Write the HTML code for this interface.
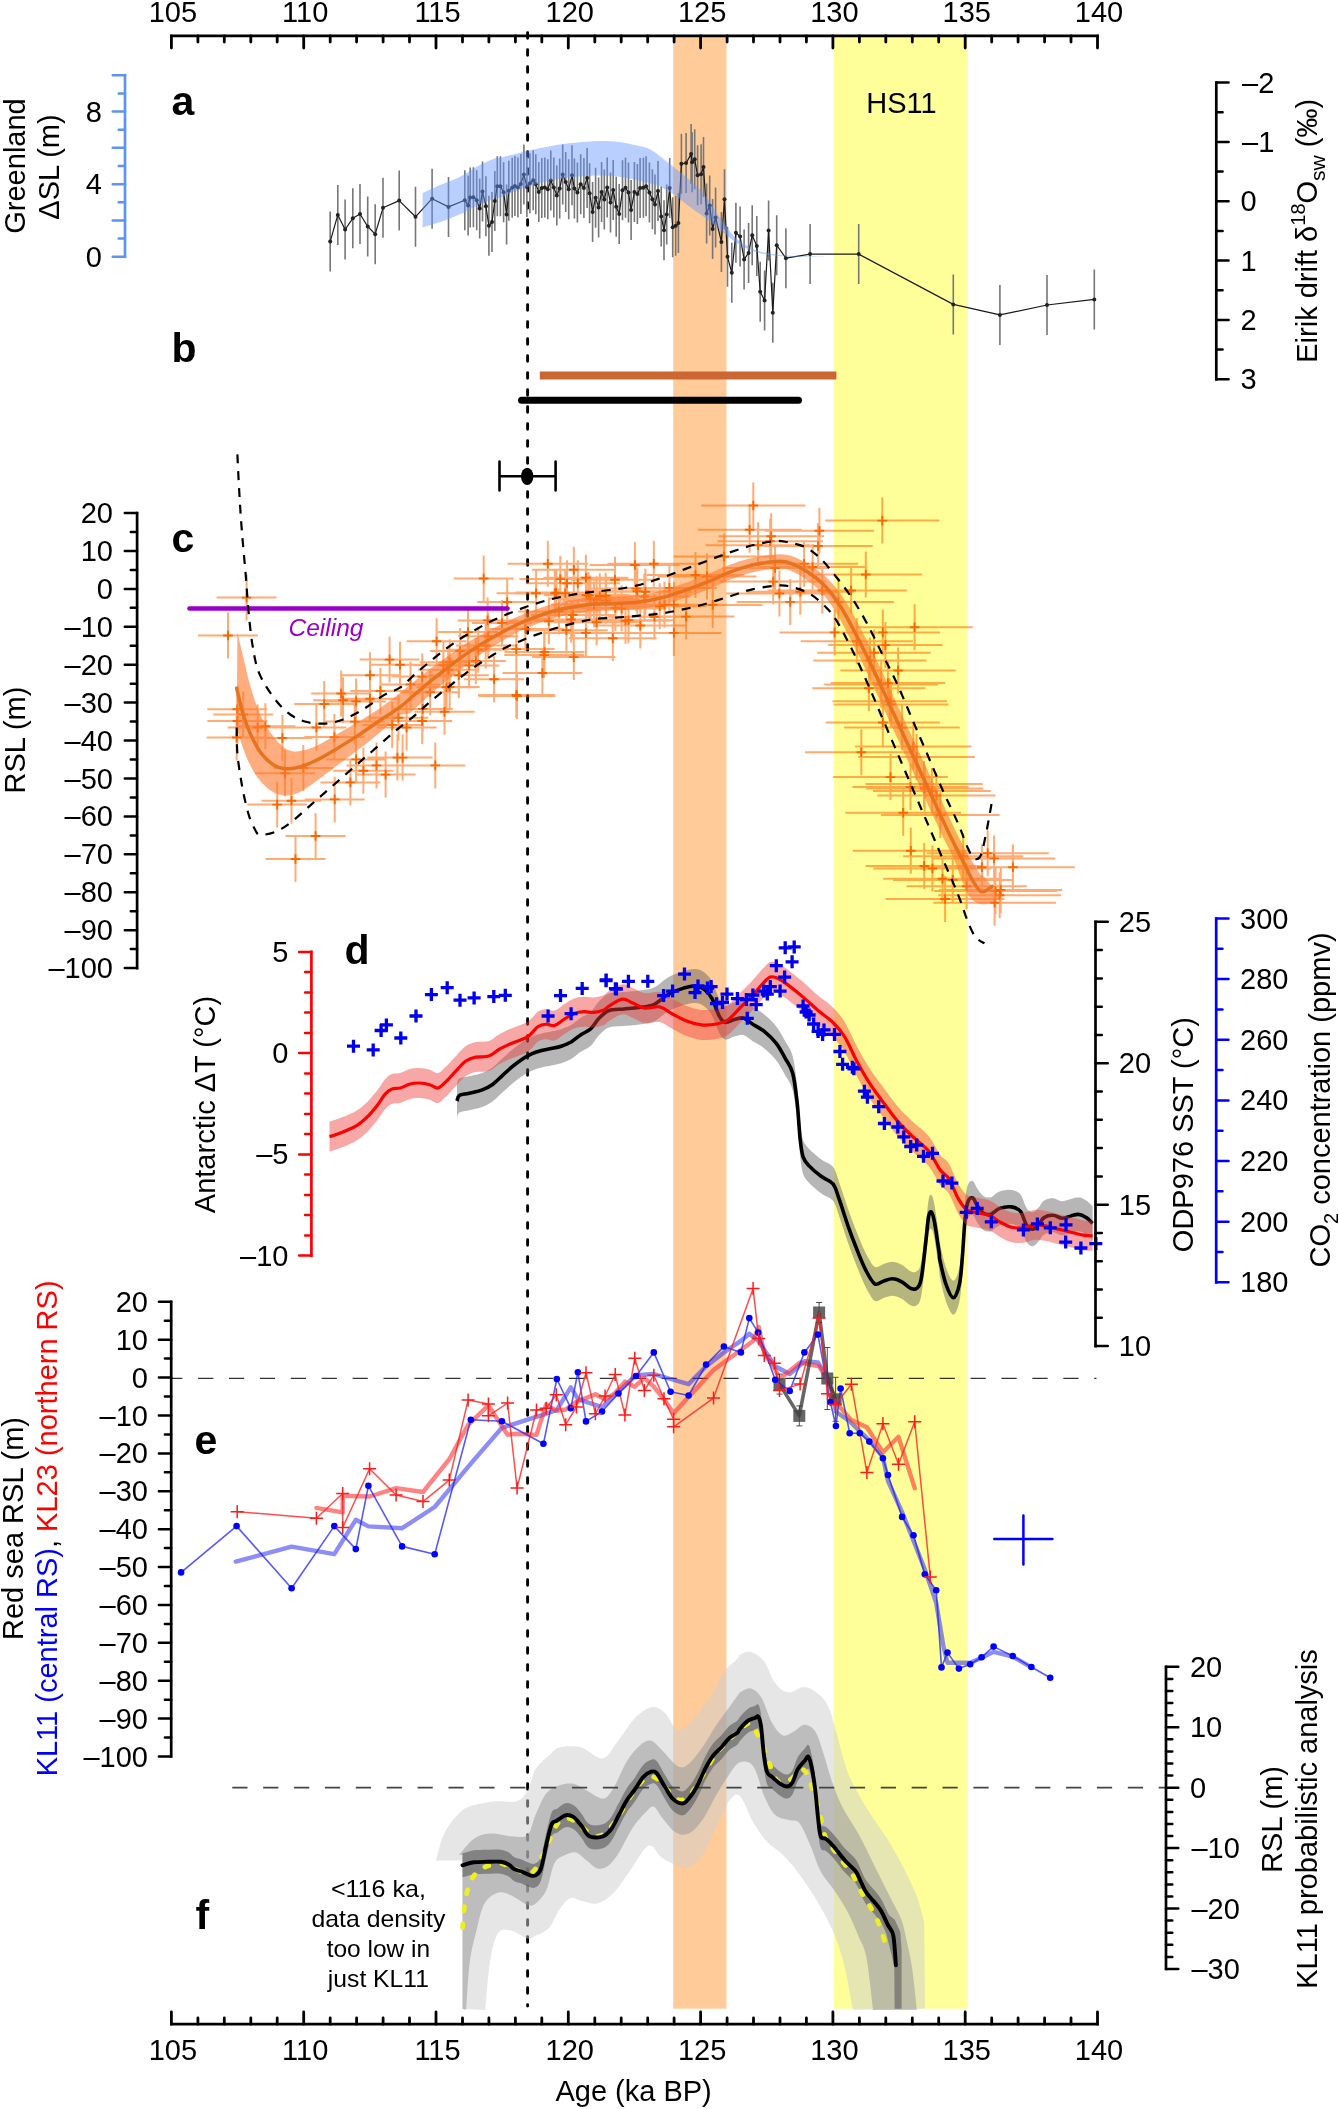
<!DOCTYPE html>
<html><head><meta charset="utf-8"><title>Figure</title>
<style>html,body{margin:0;padding:0;background:#fff}svg{display:block;will-change:transform}</style></head>
<body>
<svg width="1339" height="2109" viewBox="0 0 1339 2109">
<rect width="1339" height="2109" fill="#fff"/>
<rect x="673.2" y="36" width="53.3" height="1972.7" fill="#FFCC99"/>
<rect x="834" y="36" width="133.9" height="1972.7" fill="#FFFF99"/>
<line x1="527.6" y1="32.8" x2="527.6" y2="2006" stroke="#000" stroke-width="2.9" stroke-linecap="round" stroke-dasharray="5.5 11.5"/>
<path d="M330.2 211.6V271.6M337.8 184.9V244.9M345.1 199.5V259.5M352.8 188.3V248.3M360.0 184.0V244.0M367.7 196.5V256.5M375.2 204.2V264.2M383.0 177.8V237.8M399.2 170.6V230.6M415.5 186.8V246.8M432.1 168.7V228.7M448.5 176.9V236.9M464.8 170.2V230.2M468.1 175.6V235.6M470.2 167.4V227.4M473.4 167.2V227.2M476.7 170.2V230.2M479.7 178.4V238.4M482.5 161.6V221.6M485.9 176.2V236.2M488.9 195.8V255.8M492.0 192.0V252.0M494.8 170.9V230.9M497.3 156.2V216.2M500.4 156.2V216.2M503.6 162.2V222.2M506.6 184.6V244.6M508.8 160.8V220.8M512.2 157.7V217.7M514.9 155.9V215.9M517.9 157.4V217.4M520.9 153.9V213.9M523.9 144.5V204.5M526.9 156.9V216.9M529.9 153.2V213.2M533.2 150.2V210.2M535.8 154.2V214.2M538.8 161.9V221.9M541.8 158.0V218.0M544.8 157.4V217.4M547.8 159.2V219.2M550.8 150.5V210.5M553.8 157.4V217.4M556.8 165.4V225.4M559.7 158.4V218.4M562.7 144.5V204.5M565.7 152.1V212.1M568.7 159.2V219.2M572.0 145.3V205.3M574.4 158.4V218.4M577.4 162.4V222.4M580.7 154.2V214.2M583.9 158.1V218.1M587.1 148.0V208.0M589.6 163.2V223.2M592.6 181.9V241.9M595.6 167.7V227.7M598.6 177.4V237.4M601.6 161.9V221.9M604.3 169.6V229.6M607.2 157.4V217.4M610.5 172.6V232.6M613.2 159.9V219.9M616.2 176.8V236.8M619.2 184.1V244.1M622.5 160.2V220.2M625.5 157.7V217.7M628.5 162.6V222.6M631.1 180.1V240.1M634.4 161.9V221.9M637.4 163.9V223.9M640.1 158.0V218.0M643.4 157.7V217.7M646.1 156.2V216.2M649.4 162.4V222.4M652.4 169.3V229.3M655.0 174.4V234.4M658.0 161.1V221.1M661.2 186.5V246.5M664.0 200.2V260.2M666.7 184.6V244.6M669.7 158.0V218.0M672.7 197.3V257.3M675.7 195.8V255.8M678.4 193.1V253.1M681.4 133.8V193.8M686.1 133.0V193.0M691.1 124.1V184.1M692.1 132.3V192.3M694.7 129.3V189.3M697.6 145.3V205.3M701.1 144.2V204.2M703.5 137.1V197.1M706.6 183.5V243.5M709.7 175.6V235.6M712.6 199.0V259.0M715.6 187.5V247.5M721.4 211.9V271.9M724.5 169.3V229.3M727.5 226.8V286.8M731.8 242.8V302.8M735.9 202.8V262.8M740.1 206.5V266.5M744.1 229.4V289.4M748.6 222.9V282.9M752.2 205.2V265.2M756.8 215.9V275.9M760.2 261.8V321.8M764.6 270.4V330.4M768.6 200.4V260.4M772.8 282.7V342.7M776.7 215.2V275.2M785.9 228.2V288.2M810.1 224.1V284.1M858.7 224.1V284.1M953.3 274.4V334.4M999.9 284.9V344.9M1047.0 275.0V335.0M1094.3 269.4V329.4" stroke="#777" stroke-width="1.6" fill="none"/>
<path d="M330.2 241.6 L337.8 214.9 L345.1 229.5 L352.8 218.3 L360.0 214.0 L367.7 226.5 L375.2 234.2 L383.0 207.8 L399.2 200.6 L415.5 216.8 L432.1 198.7 L448.5 206.9 L464.8 200.2 L468.1 205.6 L470.2 197.4 L473.4 197.2 L476.7 200.2 L479.7 208.4 L482.5 191.6 L485.9 206.2 L488.9 225.8 L492.0 222.0 L494.8 200.9 L497.3 186.2 L500.4 186.2 L503.6 192.2 L506.6 214.6 L508.8 190.8 L512.2 187.7 L514.9 185.9 L517.9 187.4 L520.9 183.9 L523.9 174.5 L526.9 186.9 L529.9 183.2 L533.2 180.2 L535.8 184.2 L538.8 191.9 L541.8 188.0 L544.8 187.4 L547.8 189.2 L550.8 180.5 L553.8 187.4 L556.8 195.4 L559.7 188.4 L562.7 174.5 L565.7 182.1 L568.7 189.2 L572.0 175.3 L574.4 188.4 L577.4 192.4 L580.7 184.2 L583.9 188.1 L587.1 178.0 L589.6 193.2 L592.6 211.9 L595.6 197.7 L598.6 207.4 L601.6 191.9 L604.3 199.6 L607.2 187.4 L610.5 202.6 L613.2 189.9 L616.2 206.8 L619.2 214.1 L622.5 190.2 L625.5 187.7 L628.5 192.6 L631.1 210.1 L634.4 191.9 L637.4 193.9 L640.1 188.0 L643.4 187.7 L646.1 186.2 L649.4 192.4 L652.4 199.3 L655.0 204.4 L658.0 191.1 L661.2 216.5 L664.0 230.2 L666.7 214.6 L669.7 188.0 L672.7 227.3 L675.7 225.8 L678.4 223.1 L681.4 163.8 L686.1 163.0 L691.1 154.1 L692.1 162.3 L694.7 159.3 L697.6 175.3 L701.1 174.2 L703.5 167.1 L706.6 213.5 L709.7 205.6 L712.6 229.0 L715.6 217.5 L721.4 241.9 L724.5 199.3 L727.5 256.8 L731.8 272.8 L735.9 232.8 L740.1 236.5 L744.1 259.4 L748.6 252.9 L752.2 235.2 L756.8 245.9 L760.2 291.8 L764.6 300.4 L768.6 230.4 L772.8 312.7 L776.7 245.2 L785.9 258.2 L810.1 254.1 L858.7 254.1 L953.3 304.4 L999.9 314.9 L1047.0 305.0 L1094.3 299.4" stroke="#1a1a1a" stroke-width="1.2" fill="none" stroke-linejoin="round"/>
<g fill="#222"><circle cx="330.2" cy="241.6" r="2"/><circle cx="337.8" cy="214.9" r="2"/><circle cx="345.1" cy="229.5" r="2"/><circle cx="352.8" cy="218.3" r="2"/><circle cx="360.0" cy="214.0" r="2"/><circle cx="367.7" cy="226.5" r="2"/><circle cx="375.2" cy="234.2" r="2"/><circle cx="383.0" cy="207.8" r="2"/><circle cx="399.2" cy="200.6" r="2"/><circle cx="415.5" cy="216.8" r="2"/><circle cx="432.1" cy="198.7" r="2"/><circle cx="448.5" cy="206.9" r="2"/><circle cx="464.8" cy="200.2" r="2"/><circle cx="468.1" cy="205.6" r="2"/><circle cx="470.2" cy="197.4" r="2"/><circle cx="473.4" cy="197.2" r="2"/><circle cx="476.7" cy="200.2" r="2"/><circle cx="479.7" cy="208.4" r="2"/><circle cx="482.5" cy="191.6" r="2"/><circle cx="485.9" cy="206.2" r="2"/><circle cx="488.9" cy="225.8" r="2"/><circle cx="492.0" cy="222.0" r="2"/><circle cx="494.8" cy="200.9" r="2"/><circle cx="497.3" cy="186.2" r="2"/><circle cx="500.4" cy="186.2" r="2"/><circle cx="503.6" cy="192.2" r="2"/><circle cx="506.6" cy="214.6" r="2"/><circle cx="508.8" cy="190.8" r="2"/><circle cx="512.2" cy="187.7" r="2"/><circle cx="514.9" cy="185.9" r="2"/><circle cx="517.9" cy="187.4" r="2"/><circle cx="520.9" cy="183.9" r="2"/><circle cx="523.9" cy="174.5" r="2"/><circle cx="526.9" cy="186.9" r="2"/><circle cx="529.9" cy="183.2" r="2"/><circle cx="533.2" cy="180.2" r="2"/><circle cx="535.8" cy="184.2" r="2"/><circle cx="538.8" cy="191.9" r="2"/><circle cx="541.8" cy="188.0" r="2"/><circle cx="544.8" cy="187.4" r="2"/><circle cx="547.8" cy="189.2" r="2"/><circle cx="550.8" cy="180.5" r="2"/><circle cx="553.8" cy="187.4" r="2"/><circle cx="556.8" cy="195.4" r="2"/><circle cx="559.7" cy="188.4" r="2"/><circle cx="562.7" cy="174.5" r="2"/><circle cx="565.7" cy="182.1" r="2"/><circle cx="568.7" cy="189.2" r="2"/><circle cx="572.0" cy="175.3" r="2"/><circle cx="574.4" cy="188.4" r="2"/><circle cx="577.4" cy="192.4" r="2"/><circle cx="580.7" cy="184.2" r="2"/><circle cx="583.9" cy="188.1" r="2"/><circle cx="587.1" cy="178.0" r="2"/><circle cx="589.6" cy="193.2" r="2"/><circle cx="592.6" cy="211.9" r="2"/><circle cx="595.6" cy="197.7" r="2"/><circle cx="598.6" cy="207.4" r="2"/><circle cx="601.6" cy="191.9" r="2"/><circle cx="604.3" cy="199.6" r="2"/><circle cx="607.2" cy="187.4" r="2"/><circle cx="610.5" cy="202.6" r="2"/><circle cx="613.2" cy="189.9" r="2"/><circle cx="616.2" cy="206.8" r="2"/><circle cx="619.2" cy="214.1" r="2"/><circle cx="622.5" cy="190.2" r="2"/><circle cx="625.5" cy="187.7" r="2"/><circle cx="628.5" cy="192.6" r="2"/><circle cx="631.1" cy="210.1" r="2"/><circle cx="634.4" cy="191.9" r="2"/><circle cx="637.4" cy="193.9" r="2"/><circle cx="640.1" cy="188.0" r="2"/><circle cx="643.4" cy="187.7" r="2"/><circle cx="646.1" cy="186.2" r="2"/><circle cx="649.4" cy="192.4" r="2"/><circle cx="652.4" cy="199.3" r="2"/><circle cx="655.0" cy="204.4" r="2"/><circle cx="658.0" cy="191.1" r="2"/><circle cx="661.2" cy="216.5" r="2"/><circle cx="664.0" cy="230.2" r="2"/><circle cx="666.7" cy="214.6" r="2"/><circle cx="669.7" cy="188.0" r="2"/><circle cx="672.7" cy="227.3" r="2"/><circle cx="675.7" cy="225.8" r="2"/><circle cx="678.4" cy="223.1" r="2"/><circle cx="681.4" cy="163.8" r="2"/><circle cx="686.1" cy="163.0" r="2"/><circle cx="691.1" cy="154.1" r="2"/><circle cx="692.1" cy="162.3" r="2"/><circle cx="694.7" cy="159.3" r="2"/><circle cx="697.6" cy="175.3" r="2"/><circle cx="701.1" cy="174.2" r="2"/><circle cx="703.5" cy="167.1" r="2"/><circle cx="706.6" cy="213.5" r="2"/><circle cx="709.7" cy="205.6" r="2"/><circle cx="712.6" cy="229.0" r="2"/><circle cx="715.6" cy="217.5" r="2"/><circle cx="721.4" cy="241.9" r="2"/><circle cx="724.5" cy="199.3" r="2"/><circle cx="727.5" cy="256.8" r="2"/><circle cx="731.8" cy="272.8" r="2"/><circle cx="735.9" cy="232.8" r="2"/><circle cx="740.1" cy="236.5" r="2"/><circle cx="744.1" cy="259.4" r="2"/><circle cx="748.6" cy="252.9" r="2"/><circle cx="752.2" cy="235.2" r="2"/><circle cx="756.8" cy="245.9" r="2"/><circle cx="760.2" cy="291.8" r="2"/><circle cx="764.6" cy="300.4" r="2"/><circle cx="768.6" cy="230.4" r="2"/><circle cx="772.8" cy="312.7" r="2"/><circle cx="776.7" cy="245.2" r="2"/><circle cx="785.9" cy="258.2" r="2"/><circle cx="810.1" cy="254.1" r="2"/><circle cx="858.7" cy="254.1" r="2"/><circle cx="953.3" cy="304.4" r="2"/><circle cx="999.9" cy="314.9" r="2"/><circle cx="1047.0" cy="305.0" r="2"/><circle cx="1094.3" cy="299.4" r="2"/></g>
<path d="M422.6 193.1 L422.6 193.1 C425.6 191.7 434.6 187.3 440.7 184.7 C446.8 182.0 453.1 180.3 459.4 177.2 C465.6 174.1 471.8 169.3 478.0 166.0 C484.3 162.7 493.0 159.0 496.7 157.6 C500.4 156.2 494.5 159.0 500.0 157.8 C505.5 156.6 519.9 152.6 529.9 150.3 C539.8 148.1 549.8 145.8 559.7 144.4 C569.7 142.9 582.2 141.9 589.6 141.4 C597.1 140.8 599.6 140.9 604.6 141.1 C609.5 141.2 614.5 141.4 619.5 142.1 C624.5 142.8 629.4 143.9 634.4 145.1 C639.4 146.3 644.4 146.8 649.4 149.1 C654.3 151.5 660.3 156.5 664.3 159.3 C668.3 162.1 674.0 166.4 673.3 166.0 C672.5 165.6 659.7 156.7 660.0 157.1 C660.3 157.4 670.0 164.4 674.9 168.3 C679.9 172.1 684.9 175.7 689.9 180.2 C694.9 184.7 699.8 188.9 704.8 195.1 C709.8 201.4 714.8 210.6 719.7 217.5 C724.7 224.5 729.7 232.0 734.7 237.0 C739.7 241.9 744.6 244.8 749.6 247.4 C754.6 250.0 759.6 251.4 764.6 252.6 C769.5 253.9 774.5 254.3 779.5 254.9 C784.5 255.4 789.4 255.7 794.4 255.9 C799.4 256.2 804.4 256.3 809.4 256.4 C814.3 256.5 821.8 256.6 824.3 256.7 L824.3 257.1 L824.3 257.1 C821.8 257.1 814.3 257.1 809.4 257.0 C804.4 256.9 799.4 256.8 794.4 256.7 C789.4 256.5 784.5 256.5 779.5 256.1 C774.5 255.7 769.5 255.2 764.6 254.1 C759.6 253.1 754.6 251.8 749.6 249.7 C744.6 247.5 739.7 244.8 734.7 241.4 C729.7 238.1 724.7 233.5 719.7 229.5 C714.8 225.5 709.8 221.3 704.8 217.5 C699.8 213.8 694.9 210.8 689.9 207.1 C684.9 203.4 679.9 198.6 674.9 195.1 C670.0 191.7 660.3 186.8 660.0 186.2 C659.7 185.6 672.5 191.2 673.3 191.4 C674.0 191.7 668.3 189.0 664.3 187.7 C660.3 186.3 654.3 184.6 649.4 183.2 C644.4 181.8 639.4 180.5 634.4 179.5 C629.4 178.4 624.5 177.4 619.5 176.8 C614.5 176.1 609.5 175.9 604.6 175.7 C599.6 175.5 597.1 175.2 589.6 175.7 C582.2 176.2 569.7 177.0 559.7 178.7 C549.8 180.5 539.8 183.1 529.9 186.2 C519.9 189.3 505.5 195.4 500.0 197.4 C494.5 199.3 500.4 196.4 496.7 197.8 C493.0 199.1 484.3 202.4 478.0 205.2 C471.8 208.0 465.6 211.8 459.4 214.6 C453.1 217.4 446.8 219.9 440.7 222.0 C434.6 224.1 425.6 226.4 422.6 227.3 Z" fill="#6495FF" fill-opacity="0.45"/>
<line x1="539.8" y1="375.4" x2="836.4" y2="375.4" stroke="#CC6633" stroke-width="8"/>
<line x1="521.5" y1="400.3" x2="798.5" y2="400.3" stroke="#000" stroke-width="7" stroke-linecap="round"/>
<path d="M499.5 476.3H555.6M499.5 461.5V490.5M555.6 461.5V490.5" stroke="#000" stroke-width="2.6" fill="none" stroke-linecap="round"/>
<ellipse cx="527.2" cy="476.3" rx="6.2" ry="8.6" fill="#000"/>
<path d="M216.6 597.6H276.6M246.6 574.6V620.6M198.0 635.5H258.0M228.0 612.5V658.5M207.4 721.0H267.4M237.4 698.0V744.0M206.7 737.5H266.7M236.7 714.5V760.5M213.2 714.5H273.2M243.2 691.5V737.5M227.6 727.5H287.6M257.6 704.5V750.5M235.4 726.2H295.4M265.4 703.2V749.2M252.4 738.0H312.4M282.4 715.0V761.0M255.0 773.3H315.0M285.0 750.3V796.3M247.2 804.6H307.2M277.2 781.6V827.6M261.5 800.7H321.5M291.5 777.7V823.7M273.3 768.0H333.3M303.3 745.0V791.0M265.5 859.0H325.5M295.5 836.0V882.0M285.6 836.0H345.6M315.6 813.0V859.0M286.4 727.5H346.4M316.4 704.5V750.5M294.2 704.0H354.2M324.2 681.0V727.0M311.2 693.5H371.2M341.2 670.5V716.5M326.1 701.4H386.1M356.1 678.4V724.4M304.7 799.4H364.7M334.7 776.4V822.4M320.4 782.4H380.4M350.4 759.4V805.4M326.1 759.4H386.1M356.1 736.4V782.4M333.4 770.7H393.4M363.4 747.7V793.7M340.0 675.3H400.0M370.0 652.3V698.3M340.0 698.8H400.0M370.0 675.8V721.8M346.5 765.4H406.5M376.5 742.4V788.4M350.4 690.9H410.4M380.4 667.9V713.9M355.6 774.6H415.6M385.6 751.6V797.6M359.6 659.6H419.6M389.6 636.6V682.6M362.2 724.9H422.2M392.2 701.9V747.9M370.0 664.8H430.0M400.0 641.8V687.8M367.4 757.6H427.4M397.4 734.6V780.6M372.6 757.6H432.6M402.6 734.6V780.6M376.6 727.5H436.6M406.6 704.5V750.5M380.5 684.4H440.5M410.5 661.4V707.4M392.2 676.6H452.2M422.2 653.6V699.6M392.2 721.0H452.2M422.2 698.0V744.0M400.1 692.2H460.1M430.1 669.2V715.2M405.3 765.4H465.3M435.3 742.4V788.4M406.6 641.3H466.6M436.6 618.3V664.3M419.7 662.2H479.7M449.7 639.2V685.2M419.7 687.0H479.7M449.7 664.0V710.0M414.5 711.8H474.5M444.5 688.8V734.8M428.8 675.3H488.8M458.8 652.3V698.3M438.0 632.1H498.0M468.0 609.1V655.1M445.8 660.9H505.8M475.8 637.9V683.9M453.7 578.5H513.7M483.7 555.5V601.5M457.6 620.4H517.6M487.6 597.4V643.4M464.1 679.2H524.1M494.1 656.2V702.2M472.0 623.0H532.0M502.0 600.0V646.0M477.2 602.1H537.2M507.2 579.1V625.1M478.0 694.9H554.7M516.3 671.9V717.9M478.0 649.1H554.7M516.3 626.1V672.1M507.6 563.7H588.0M547.8 540.7V586.7M519.4 579.1H601.3M560.3 556.1V602.1M525.7 583.2H608.4M567.0 560.2V606.2M532.1 569.7H615.5M573.8 546.7V592.7M535.8 583.2H619.8M577.8 560.2V606.2M543.4 577.8H628.3M585.9 554.8V600.8M496.6 593.3H575.7M536.1 570.3V616.3M515.6 592.6H597.0M556.3 569.6V615.6M546.0 595.3H631.1M588.6 572.3V618.3M553.6 599.3H639.7M596.6 576.3V622.3M570.9 579.8H659.2M615.0 556.8V602.8M562.4 600.7H649.6M606.0 577.7V623.7M589.6 565.0H680.2M634.9 542.0V588.0M590.9 588.6H681.6M636.3 565.6V611.6M607.4 563.7H700.1M653.8 540.7V586.7M598.5 596.6H690.2M644.3 573.6V619.6M608.0 616.8H700.9M654.4 593.8V639.8M617.5 604.7H711.5M664.5 581.7V627.7M626.4 604.7H721.5M673.9 581.7V627.7M626.4 632.9H721.5M673.9 609.9V655.9M580.8 620.8H670.3M625.5 597.8V643.8M568.8 638.3H656.7M612.8 615.3V661.3M543.4 632.9H628.3M585.9 609.9V655.9M553.6 622.2H639.7M596.6 599.2V645.2M529.5 619.5H612.6M571.1 596.5V642.5M525.1 630.2H607.7M566.4 607.2V653.2M504.2 655.1H584.2M544.2 632.1V678.1M532.1 657.1H615.5M573.8 634.1V680.1M486.5 628.9H564.3M525.4 605.9V651.9M502.5 673.0H582.3M542.4 650.0V696.0M478.6 696.0H555.4M517.0 673.0V719.0M657.5 576.5H756.5M707.0 553.5V599.5M662.9 604.9H762.5M712.7 581.9V627.9M673.6 556.6H774.5M724.1 533.6V579.6M701.2 505.5H805.4M753.3 482.5V528.5M697.6 529.7H801.6M749.6 506.7V552.7M705.8 545.3H810.4M758.1 522.3V568.3M722.2 568.0H828.1M775.1 545.0V591.0M726.3 593.5H832.5M779.4 570.5V616.5M825.3 520.6H939.4M882.3 497.6V543.6M764.7 530.8H874.0M819.4 507.8V553.8M763.5 546.0H872.7M818.1 523.0V569.0M809.4 574.5H922.2M865.8 551.5V597.5M795.3 590.5H906.9M851.1 567.5V613.5M750.1 563.8H858.2M804.1 540.8V586.8M736.6 601.9H843.7M790.2 578.9V624.9M746.4 591.7H854.2M800.3 568.7V614.7M783.0 601.9H893.8M838.4 578.9V624.9M779.4 632.4H889.8M834.6 609.4V655.4M825.8 632.4H939.9M882.8 609.4V655.4M828.2 645.1H942.5M885.4 622.1V668.1M817.2 652.7H930.7M874.0 629.7V675.7M856.3 627.3H972.8M914.6 604.3V650.3M840.4 670.5H955.7M898.1 647.5V693.5M812.4 688.2H925.4M868.9 665.2V711.2M830.7 683.1H945.2M887.9 660.1V706.1M805.0 752.2H917.5M861.3 729.2V775.2M825.8 722.5H939.9M882.8 699.5V745.5M844.1 727.6H959.7M901.9 704.6V750.6M855.1 746.6H971.5M913.3 723.6V769.6M833.1 777.1H947.8M890.5 754.1V800.1M866.1 788.5H983.4M924.7 765.5V811.5M872.9 791.1H990.8M931.9 768.1V814.1M845.3 812.7H961.0M903.2 789.7V835.7M852.7 850.7H968.9M910.8 827.7V873.7M865.6 866.0H982.9M924.2 843.0V889.0M873.4 868.5H991.3M932.4 845.5V891.5M883.2 878.7H1001.8M942.5 855.7V901.7M893.0 879.9H1012.4M952.7 856.9V902.9M906.4 886.3H1026.9M966.6 863.3V909.3M921.1 867.3H1042.7M981.9 844.3V890.3M926.7 853.3H1048.8M987.7 830.3V876.3M932.8 858.4H1055.3M994.1 835.4V881.4M950.9 867.3H1074.9M1012.9 844.3V890.3M933.3 902.8H1055.9M994.6 879.8V925.8M885.6 899.0H1004.5M945.1 876.0V922.0M207.3 709.3H267.3M237.3 686.3V732.3M304.4 737.1H364.4M334.4 714.1V760.1M313.1 700.2H373.1M343.1 677.2V723.2M324.8 721.6H384.8M354.8 698.6V744.6M368.4 717.7H428.4M398.4 694.7V740.7M392.7 708.9H452.7M422.7 685.9V731.9M439.1 665.4H499.1M469.1 642.4V688.4M416.5 687.3H476.5M446.5 664.3V710.3M458.2 636.3H518.2M488.2 613.3V659.3M455.7 645.6H515.7M485.7 622.6V668.6M413.4 665.3H473.4M443.4 642.3V688.3M418.2 669.7H478.2M448.2 646.7V692.7M448.2 649.7H508.2M478.2 626.7V672.7M430.1 651.0H490.1M460.1 628.0V674.0M583.6 620.3H673.4M628.5 597.3V643.3M547.8 598.5H633.1M590.5 575.5V621.5M637.8 616.6H734.4M686.1 593.6V639.6M531.1 615.0H614.4M572.8 592.0V638.0M508.5 621.3H589.1M548.8 598.3V644.3M612.9 606.3H706.4M659.7 583.3V629.3M514.2 593.4H595.4M554.8 570.4V616.4M544.0 595.1H628.9M586.4 572.1V618.1M571.2 608.0H659.5M615.4 585.0V631.0M518.1 611.6H599.8M559.0 588.6V634.6M591.8 591.3H682.7M637.3 568.3V614.3M577.1 608.6H666.1M621.6 585.6V631.6M556.5 596.2H643.0M599.8 573.2V619.2M594.7 625.5H685.9M640.3 602.5V648.5M524.1 593.1H606.5M565.3 570.1V616.1M622.1 587.9H716.7M669.4 564.9V610.9M599.5 591.8H691.3M645.4 568.8V614.8M504.5 652.0H584.5M544.5 629.0V675.0M551.1 604.4H636.9M594.0 581.4V627.4M562.1 595.7H649.3M605.7 572.7V618.7M646.7 575.0H744.3M695.5 552.0V598.0M717.5 541.3H823.0M770.2 518.3V564.3M758.2 567.0H866.9M812.6 544.0V590.0M720.3 581.6H826.1M773.2 558.6V604.6M718.4 536.2H824.0M771.2 513.2V559.2M767.5 590.5H877.0M822.3 567.5V613.5M833.7 704.4H948.5M891.1 681.4V727.4M858.2 757.1H974.9M916.6 734.1V780.1M852.4 787.1H968.6M910.5 764.1V810.1M813.3 660.6H926.4M869.9 637.6V683.6M824.2 684.4H938.2M881.2 661.4V707.4M832.4 701.3H947.0M889.7 678.3V724.3M800.8 641.3H912.9M856.8 618.3V664.3M865.4 784.1H982.7M924.0 761.1V807.1M881.1 815.0H999.6M940.3 792.0V838.0M938.2 895.3H1061.2M999.7 872.3V918.3M877.4 795.5H995.5M936.4 772.5V818.5M939.1 889.9H1062.2M1000.7 866.9V912.9M934.2 891.1H1056.9M995.5 868.1V914.1M903.1 856.2H1023.3M963.2 833.2V879.2" stroke="#FF6600" stroke-opacity="0.55" stroke-width="2" fill="none"/>
<path d="M241.8 597.6h9.6M246.6 592.8v9.6M223.2 635.5h9.6M228.0 630.7v9.6M232.6 721.0h9.6M237.4 716.2v9.6M231.9 737.5h9.6M236.7 732.7v9.6M238.4 714.5h9.6M243.2 709.7v9.6M252.8 727.5h9.6M257.6 722.7v9.6M260.6 726.2h9.6M265.4 721.4v9.6M277.6 738.0h9.6M282.4 733.2v9.6M280.2 773.3h9.6M285.0 768.5v9.6M272.4 804.6h9.6M277.2 799.8v9.6M286.7 800.7h9.6M291.5 795.9v9.6M298.5 768.0h9.6M303.3 763.2v9.6M290.7 859.0h9.6M295.5 854.2v9.6M310.8 836.0h9.6M315.6 831.2v9.6M311.6 727.5h9.6M316.4 722.7v9.6M319.4 704.0h9.6M324.2 699.2v9.6M336.4 693.5h9.6M341.2 688.7v9.6M351.3 701.4h9.6M356.1 696.6v9.6M329.9 799.4h9.6M334.7 794.6v9.6M345.6 782.4h9.6M350.4 777.6v9.6M351.3 759.4h9.6M356.1 754.6v9.6M358.6 770.7h9.6M363.4 765.9v9.6M365.2 675.3h9.6M370.0 670.5v9.6M365.2 698.8h9.6M370.0 694.0v9.6M371.7 765.4h9.6M376.5 760.6v9.6M375.6 690.9h9.6M380.4 686.1v9.6M380.8 774.6h9.6M385.6 769.8v9.6M384.8 659.6h9.6M389.6 654.8v9.6M387.4 724.9h9.6M392.2 720.1v9.6M395.2 664.8h9.6M400.0 660.0v9.6M392.6 757.6h9.6M397.4 752.8v9.6M397.8 757.6h9.6M402.6 752.8v9.6M401.8 727.5h9.6M406.6 722.7v9.6M405.7 684.4h9.6M410.5 679.6v9.6M417.4 676.6h9.6M422.2 671.8v9.6M417.4 721.0h9.6M422.2 716.2v9.6M425.3 692.2h9.6M430.1 687.4v9.6M430.5 765.4h9.6M435.3 760.6v9.6M431.8 641.3h9.6M436.6 636.5v9.6M444.9 662.2h9.6M449.7 657.4v9.6M444.9 687.0h9.6M449.7 682.2v9.6M439.7 711.8h9.6M444.5 707.0v9.6M454.0 675.3h9.6M458.8 670.5v9.6M463.2 632.1h9.6M468.0 627.3v9.6M471.0 660.9h9.6M475.8 656.1v9.6M478.9 578.5h9.6M483.7 573.7v9.6M482.8 620.4h9.6M487.6 615.6v9.6M489.3 679.2h9.6M494.1 674.4v9.6M497.2 623.0h9.6M502.0 618.2v9.6M502.4 602.1h9.6M507.2 597.3v9.6M511.5 694.9h9.6M516.3 690.1v9.6M511.5 649.1h9.6M516.3 644.3v9.6M543.0 563.7h9.6M547.8 558.9v9.6M555.5 579.1h9.6M560.3 574.3v9.6M562.2 583.2h9.6M567.0 578.4v9.6M569.0 569.7h9.6M573.8 564.9v9.6M573.0 583.2h9.6M577.8 578.4v9.6M581.1 577.8h9.6M585.9 573.0v9.6M531.3 593.3h9.6M536.1 588.5v9.6M551.5 592.6h9.6M556.3 587.8v9.6M583.8 595.3h9.6M588.6 590.5v9.6M591.8 599.3h9.6M596.6 594.5v9.6M610.2 579.8h9.6M615.0 575.0v9.6M601.2 600.7h9.6M606.0 595.9v9.6M630.1 565.0h9.6M634.9 560.2v9.6M631.5 588.6h9.6M636.3 583.8v9.6M649.0 563.7h9.6M653.8 558.9v9.6M639.5 596.6h9.6M644.3 591.8v9.6M649.6 616.8h9.6M654.4 612.0v9.6M659.7 604.7h9.6M664.5 599.9v9.6M669.1 604.7h9.6M673.9 599.9v9.6M669.1 632.9h9.6M673.9 628.1v9.6M620.7 620.8h9.6M625.5 616.0v9.6M608.0 638.3h9.6M612.8 633.5v9.6M581.1 632.9h9.6M585.9 628.1v9.6M591.8 622.2h9.6M596.6 617.4v9.6M566.3 619.5h9.6M571.1 614.7v9.6M561.6 630.2h9.6M566.4 625.4v9.6M539.4 655.1h9.6M544.2 650.3v9.6M569.0 657.1h9.6M573.8 652.3v9.6M520.6 628.9h9.6M525.4 624.1v9.6M537.6 673.0h9.6M542.4 668.2v9.6M512.2 696.0h9.6M517.0 691.2v9.6M702.2 576.5h9.6M707.0 571.7v9.6M707.9 604.9h9.6M712.7 600.1v9.6M719.3 556.6h9.6M724.1 551.8v9.6M748.5 505.5h9.6M753.3 500.7v9.6M744.8 529.7h9.6M749.6 524.9v9.6M753.3 545.3h9.6M758.1 540.5v9.6M770.3 568.0h9.6M775.1 563.2v9.6M774.6 593.5h9.6M779.4 588.7v9.6M877.5 520.6h9.6M882.3 515.8v9.6M814.6 530.8h9.6M819.4 526.0v9.6M813.3 546.0h9.6M818.1 541.2v9.6M861.0 574.5h9.6M865.8 569.7v9.6M846.3 590.5h9.6M851.1 585.7v9.6M799.3 563.8h9.6M804.1 559.0v9.6M785.4 601.9h9.6M790.2 597.1v9.6M795.5 591.7h9.6M800.3 586.9v9.6M833.6 601.9h9.6M838.4 597.1v9.6M829.8 632.4h9.6M834.6 627.6v9.6M878.0 632.4h9.6M882.8 627.6v9.6M880.6 645.1h9.6M885.4 640.3v9.6M869.2 652.7h9.6M874.0 647.9v9.6M909.8 627.3h9.6M914.6 622.5v9.6M893.3 670.5h9.6M898.1 665.7v9.6M864.1 688.2h9.6M868.9 683.4v9.6M883.1 683.1h9.6M887.9 678.3v9.6M856.5 752.2h9.6M861.3 747.4v9.6M878.0 722.5h9.6M882.8 717.7v9.6M897.1 727.6h9.6M901.9 722.8v9.6M908.5 746.6h9.6M913.3 741.8v9.6M885.7 777.1h9.6M890.5 772.3v9.6M919.9 788.5h9.6M924.7 783.7v9.6M927.1 791.1h9.6M931.9 786.3v9.6M898.4 812.7h9.6M903.2 807.9v9.6M906.0 850.7h9.6M910.8 845.9v9.6M919.4 866.0h9.6M924.2 861.2v9.6M927.6 868.5h9.6M932.4 863.7v9.6M937.7 878.7h9.6M942.5 873.9v9.6M947.9 879.9h9.6M952.7 875.1v9.6M961.8 886.3h9.6M966.6 881.5v9.6M977.1 867.3h9.6M981.9 862.5v9.6M982.9 853.3h9.6M987.7 848.5v9.6M989.3 858.4h9.6M994.1 853.6v9.6M1008.1 867.3h9.6M1012.9 862.5v9.6M989.8 902.8h9.6M994.6 898.0v9.6M940.3 899.0h9.6M945.1 894.2v9.6M232.5 709.3h9.6M237.3 704.5v9.6M329.6 737.1h9.6M334.4 732.3v9.6M338.3 700.2h9.6M343.1 695.4v9.6M350.0 721.6h9.6M354.8 716.8v9.6M393.6 717.7h9.6M398.4 712.9v9.6M417.9 708.9h9.6M422.7 704.1v9.6M464.3 665.4h9.6M469.1 660.6v9.6M441.7 687.3h9.6M446.5 682.5v9.6M483.4 636.3h9.6M488.2 631.5v9.6M480.9 645.6h9.6M485.7 640.8v9.6M438.6 665.3h9.6M443.4 660.5v9.6M443.4 669.7h9.6M448.2 664.9v9.6M473.4 649.7h9.6M478.2 644.9v9.6M455.3 651.0h9.6M460.1 646.2v9.6M623.7 620.3h9.6M628.5 615.5v9.6M585.7 598.5h9.6M590.5 593.7v9.6M681.3 616.6h9.6M686.1 611.8v9.6M568.0 615.0h9.6M572.8 610.2v9.6M544.0 621.3h9.6M548.8 616.5v9.6M654.9 606.3h9.6M659.7 601.5v9.6M550.0 593.4h9.6M554.8 588.6v9.6M581.6 595.1h9.6M586.4 590.3v9.6M610.6 608.0h9.6M615.4 603.2v9.6M554.2 611.6h9.6M559.0 606.8v9.6M632.5 591.3h9.6M637.3 586.5v9.6M616.8 608.6h9.6M621.6 603.8v9.6M595.0 596.2h9.6M599.8 591.4v9.6M635.5 625.5h9.6M640.3 620.7v9.6M560.5 593.1h9.6M565.3 588.3v9.6M664.6 587.9h9.6M669.4 583.1v9.6M640.6 591.8h9.6M645.4 587.0v9.6M539.7 652.0h9.6M544.5 647.2v9.6M589.2 604.4h9.6M594.0 599.6v9.6M600.9 595.7h9.6M605.7 590.9v9.6M690.7 575.0h9.6M695.5 570.2v9.6M765.4 541.3h9.6M770.2 536.5v9.6M807.8 567.0h9.6M812.6 562.2v9.6M768.4 581.6h9.6M773.2 576.8v9.6M766.4 536.2h9.6M771.2 531.4v9.6M817.5 590.5h9.6M822.3 585.7v9.6M886.3 704.4h9.6M891.1 699.6v9.6M911.8 757.1h9.6M916.6 752.3v9.6M905.7 787.1h9.6M910.5 782.3v9.6M865.1 660.6h9.6M869.9 655.8v9.6M876.4 684.4h9.6M881.2 679.6v9.6M884.9 701.3h9.6M889.7 696.5v9.6M852.0 641.3h9.6M856.8 636.5v9.6M919.2 784.1h9.6M924.0 779.3v9.6M935.5 815.0h9.6M940.3 810.2v9.6M994.9 895.3h9.6M999.7 890.5v9.6M931.6 795.5h9.6M936.4 790.7v9.6M995.9 889.9h9.6M1000.7 885.1v9.6M990.7 891.1h9.6M995.5 886.3v9.6M958.4 856.2h9.6M963.2 851.4v9.6" stroke="#FF6600" stroke-width="1.9" fill="none"/>
<line x1="189.5" y1="608.5" x2="507.5" y2="608.5" stroke="#9900CC" stroke-width="4.6" stroke-linecap="round"/>
<text x="288.5" y="635.5" font-family="Liberation Sans, sans-serif" font-size="24" font-style="italic" fill="#9900CC" textLength="75" lengthAdjust="spacingAndGlyphs">Ceiling</text>
<path d="M237.4 632.1 L238.0 634.7 L238.9 638.3 L239.8 642.6 L240.9 647.3 L242.0 652.1 L243.2 657.0 L244.3 661.8 L245.6 667.0 L246.8 672.4 L248.1 677.8 L249.5 683.2 L251.0 688.3 L252.6 693.4 L254.2 698.4 L255.9 703.4 L257.7 708.2 L259.6 712.8 L261.5 717.1 L263.5 721.1 L265.6 725.0 L267.9 728.6 L270.1 732.0 L272.3 735.1 L274.6 738.0 L276.7 740.6 L278.9 743.0 L281.1 745.1 L283.3 746.9 L285.4 748.5 L287.6 749.7 L289.8 750.6 L291.9 751.2 L294.0 751.5 L296.1 751.5 L298.4 751.3 L300.7 751.1 L303.1 750.6 L305.5 750.0 L308.0 749.3 L310.7 748.3 L313.4 747.2 L316.4 745.8 L319.6 744.3 L323.0 742.4 L326.5 740.4 L330.1 738.3 L333.7 736.1 L337.3 734.1 L340.8 732.1 L344.3 730.0 L347.7 728.0 L351.2 726.0 L354.7 723.9 L358.2 721.8 L361.7 719.7 L365.2 717.6 L368.7 715.5 L372.1 713.3 L375.6 711.0 L379.1 708.7 L382.8 706.1 L386.9 703.1 L390.9 700.1 L394.6 697.2 L397.7 694.8 L400.0 693.0 L395.8 696.6 L398.4 694.6 L400.8 692.6 L403.1 690.6 L405.5 688.6 L408.1 686.5 L410.6 684.4 L413.2 682.3 L415.7 680.2 L418.3 678.1 L420.9 676.1 L423.5 674.0 L426.1 672.0 L428.7 670.0 L431.2 668.0 L433.8 666.1 L436.4 664.2 L439.0 662.3 L441.6 660.4 L444.1 658.5 L446.7 656.7 L449.3 654.9 L451.9 653.1 L454.4 651.3 L457.0 649.5 L459.6 647.8 L462.2 646.0 L464.8 644.3 L467.4 642.6 L470.0 641.0 L472.7 639.4 L475.3 637.9 L477.9 636.4 L480.5 635.0 L483.1 633.6 L485.6 632.2 L488.2 630.8 L490.8 629.5 L493.3 628.2 L495.9 626.9 L498.5 625.6 L501.0 624.3 L503.6 623.1 L506.2 621.8 L508.8 620.6 L511.4 619.4 L514.0 618.2 L516.6 617.1 L519.2 616.0 L521.8 614.9 L524.4 613.8 L526.9 612.9 L529.5 611.9 L532.0 611.0 L534.5 610.0 L537.0 609.1 L539.6 608.2 L542.1 607.3 L544.7 606.4 L547.3 605.6 L550.0 604.8 L552.6 604.1 L555.1 603.4 L557.7 602.8 L560.3 602.2 L562.9 601.7 L565.5 601.2 L568.0 600.7 L570.6 600.3 L573.2 599.8 L575.7 599.5 L578.2 599.1 L580.6 598.7 L582.9 598.3 L585.3 598.0 L587.9 597.6 L590.6 597.3 L593.7 597.1 L597.1 596.9 L600.8 596.8 L604.6 596.7 L608.4 596.7 L612.2 596.6 L616.0 596.5 L619.7 596.3 L623.4 596.1 L627.1 596.0 L630.8 595.8 L634.5 595.5 L638.1 595.1 L641.7 594.6 L645.3 594.0 L649.0 593.4 L652.6 592.7 L656.3 591.9 L659.9 591.0 L663.5 590.0 L667.2 589.0 L670.9 587.8 L674.6 586.6 L678.3 585.3 L682.0 584.1 L685.8 582.8 L689.5 581.4 L693.2 580.0 L696.9 578.6 L700.7 577.2 L704.3 575.7 L708.0 574.1 L711.7 572.5 L715.5 570.7 L719.4 569.0 L723.3 567.3 L727.2 565.7 L731.1 564.3 L734.9 562.9 L738.7 561.6 L742.6 560.4 L746.7 559.3 L750.9 558.3 L755.6 557.3 L760.5 556.4 L765.7 555.6 L770.8 554.9 L775.6 554.4 L780.0 554.3 L783.8 554.4 L787.2 554.9 L790.3 555.6 L793.0 556.5 L795.5 557.6 L798.1 558.7 L800.9 559.9 L803.6 561.3 L806.4 562.9 L809.1 564.6 L811.8 566.4 L814.5 568.2 L817.1 570.1 L819.8 572.1 L822.5 574.2 L825.3 576.5 L828.1 579.0 L830.8 581.9 L833.6 584.9 L836.3 588.2 L838.9 591.7 L841.6 595.3 L844.2 599.2 L846.9 603.3 L849.5 607.6 L852.1 612.2 L854.7 617.0 L857.3 621.9 L859.8 626.8 L862.4 631.7 L864.9 636.6 L867.5 641.6 L870.1 646.7 L872.6 651.8 L875.2 657.1 L877.7 662.4 L880.3 667.7 L882.8 673.2 L885.4 678.8 L887.9 684.4 L890.5 689.9 L893.0 695.5 L895.5 701.0 L898.1 706.5 L900.6 712.0 L903.2 717.5 L905.7 723.0 L908.2 728.5 L910.8 734.0 L913.3 739.5 L915.9 745.0 L918.4 750.5 L920.9 756.0 L923.5 761.5 L926.0 767.0 L928.6 772.5 L931.1 778.0 L933.6 783.5 L936.2 789.0 L938.7 794.5 L941.3 800.0 L943.8 805.6 L946.3 811.2 L948.9 816.7 L951.4 822.1 L953.9 827.4 L956.5 832.7 L959.1 838.0 L961.8 843.3 L964.4 848.4 L967.0 853.2 L969.7 857.5 L972.2 861.4 L974.4 865.0 L976.5 868.3 L978.4 871.3 L980.1 873.9 L981.8 876.2 L983.4 878.2 L984.8 879.8 L986.0 881.1 L986.9 881.7 L987.2 881.7 L986.6 881.0 L984.8 880.0 L982.2 879.4 L980.3 879.3 L979.8 879.2 L979.9 878.8 L980.2 878.4 L980.6 877.9 L980.8 877.5 L981.0 877.0 L981.5 876.3 L982.0 875.6 L982.5 875.1 L1001.6 897.5 L1001.0 897.9 L1000.0 898.5 L998.8 899.3 L997.1 900.3 L995.3 901.2 L993.7 901.9 L992.0 902.4 L990.2 903.1 L987.6 903.9 L983.5 904.4 L978.7 903.7 L974.6 901.7 L971.6 899.2 L969.6 896.7 L968.1 894.2 L966.7 891.7 L965.5 889.1 L964.2 886.2 L962.9 883.1 L961.6 879.8 L960.3 876.3 L958.9 872.6 L957.5 868.6 L956.0 864.3 L954.2 859.7 L951.9 854.7 L949.3 849.6 L946.6 844.3 L943.9 838.9 L941.3 833.5 L938.7 828.1 L936.2 822.6 L933.6 817.0 L931.1 811.4 L928.5 805.9 L926.0 800.3 L923.5 794.8 L920.9 789.3 L918.4 783.8 L915.8 778.3 L913.3 772.8 L910.8 767.3 L908.2 761.8 L905.7 756.3 L903.2 750.8 L900.6 745.3 L898.1 739.8 L895.5 734.3 L893.0 728.8 L890.5 723.3 L887.9 717.8 L885.4 712.3 L882.8 706.8 L880.3 701.3 L877.8 695.8 L875.2 690.2 L872.7 684.6 L870.1 679.1 L867.6 673.7 L865.1 668.4 L862.6 663.2 L860.1 658.0 L857.5 653.0 L855.0 647.9 L852.5 643.0 L850.0 638.1 L847.4 633.2 L844.9 628.4 L842.4 623.6 L839.9 619.0 L837.5 614.7 L835.0 610.7 L832.6 606.9 L830.1 603.4 L827.7 600.1 L825.3 597.0 L822.9 594.1 L820.6 591.4 L818.3 589.1 L816.0 586.9 L813.7 585.0 L811.3 583.2 L808.9 581.4 L806.5 579.7 L804.0 578.0 L801.6 576.4 L799.3 575.0 L797.0 573.7 L794.7 572.5 L792.4 571.4 L790.2 570.5 L788.3 569.7 L786.5 569.1 L784.8 568.7 L782.7 568.4 L780.0 568.3 L776.5 568.4 L772.3 568.8 L767.7 569.4 L762.9 570.2 L758.2 571.1 L754.0 572.0 L750.1 572.9 L746.4 573.9 L742.9 575.0 L739.4 576.2 L735.9 577.4 L732.3 578.8 L728.6 580.2 L725.0 581.8 L721.3 583.5 L717.5 585.2 L713.6 587.0 L709.7 588.6 L705.8 590.2 L702.0 591.7 L698.1 593.2 L694.3 594.6 L690.5 596.0 L686.6 597.3 L682.8 598.6 L679.0 599.9 L675.1 601.2 L671.2 602.4 L667.3 603.5 L663.3 604.6 L659.4 605.5 L655.5 606.4 L651.6 607.1 L647.6 607.8 L643.7 608.4 L639.8 609.0 L635.8 609.4 L631.8 609.7 L627.9 610.0 L624.1 610.1 L620.3 610.3 L616.5 610.4 L612.6 610.6 L608.7 610.7 L604.9 610.7 L601.2 610.8 L597.7 610.9 L594.6 611.0 L591.9 611.3 L589.5 611.5 L587.2 611.8 L585.0 612.2 L582.7 612.5 L580.3 612.9 L577.8 613.3 L575.4 613.7 L572.9 614.1 L570.5 614.5 L568.1 614.9 L565.7 615.4 L563.3 615.9 L560.9 616.5 L558.5 617.0 L556.1 617.6 L553.8 618.3 L551.4 619.0 L549.0 619.7 L546.6 620.5 L544.2 621.4 L541.8 622.2 L539.3 623.1 L536.9 624.1 L534.4 625.0 L532.0 625.9 L529.5 626.9 L527.1 627.8 L524.7 628.8 L522.4 629.9 L520.0 631.1 L517.7 632.3 L515.3 633.6 L512.9 634.9 L510.5 636.2 L508.1 637.6 L505.6 639.0 L503.2 640.4 L500.8 641.8 L498.4 643.2 L496.0 644.6 L493.6 646.1 L491.2 647.6 L488.8 649.1 L486.4 650.6 L484.0 652.1 L481.7 653.7 L479.3 655.3 L477.0 656.9 L474.6 658.6 L472.3 660.4 L469.9 662.2 L467.5 664.0 L465.0 665.9 L462.6 667.7 L460.2 669.6 L457.8 671.5 L455.4 673.4 L453.0 675.3 L450.6 677.3 L448.2 679.3 L445.8 681.3 L443.4 683.3 L441.0 685.3 L438.6 687.4 L436.3 689.4 L433.9 691.5 L431.5 693.7 L429.1 695.8 L426.6 698.0 L424.2 700.2 L421.8 702.4 L419.5 704.5 L417.2 706.6 L414.9 708.8 L412.5 711.0 L409.9 713.3 L400.0 715.0 L397.7 717.0 L394.6 719.8 L390.9 723.1 L386.9 726.6 L382.8 730.1 L379.1 733.3 L375.6 736.1 L372.1 738.9 L368.7 741.7 L365.2 744.4 L361.7 747.1 L358.2 749.7 L354.7 752.4 L351.2 755.0 L347.7 757.6 L344.3 760.2 L340.8 762.8 L337.3 765.4 L333.7 768.1 L330.1 770.9 L326.5 773.6 L323.0 776.3 L319.6 778.8 L316.4 781.1 L313.4 783.2 L310.7 785.2 L308.0 787.1 L305.5 788.8 L303.1 790.3 L300.7 791.6 L298.4 792.7 L296.1 793.6 L294.0 794.3 L291.9 794.9 L289.8 795.3 L287.6 795.5 L285.4 795.5 L283.3 795.4 L281.1 795.1 L278.9 794.6 L276.7 793.8 L274.6 792.9 L272.3 791.6 L270.1 790.2 L267.9 788.5 L265.6 786.6 L263.5 784.6 L261.5 782.4 L259.6 780.1 L257.7 777.7 L255.9 775.1 L254.2 772.4 L252.6 769.6 L251.0 766.7 L249.6 763.9 L248.2 760.9 L246.9 757.9 L245.6 754.8 L244.4 751.7 L243.2 748.4 L241.9 744.9 L240.7 740.9 L239.4 736.8 L238.3 733.0 L237.4 729.8 L236.7 727.5 Z" fill="#FF7A2E" stroke="none" fill-opacity="0.62"/>
<path d="M236.7 688.3 C237.7 692.7 240.8 706.6 243.2 714.5 C245.6 722.3 248.0 728.8 251.0 735.4 C254.1 741.9 257.6 748.7 261.5 753.7 C265.4 758.7 270.2 762.9 274.6 765.4 C278.9 768.0 283.3 768.6 287.6 768.8 C292.0 769.0 295.9 768.2 300.7 766.7 C305.5 765.3 310.3 763.3 316.4 760.2 C322.5 757.2 330.3 752.6 337.3 748.4 C344.3 744.3 351.2 739.9 358.2 735.4 C365.2 730.8 372.1 725.7 379.1 721.0 C386.1 716.3 394.0 711.6 400.0 707.1 C406.0 702.7 410.0 698.7 414.9 694.4 C419.9 690.2 424.9 685.8 429.9 681.7 C434.9 677.6 439.8 673.6 444.8 669.8 C449.8 665.9 454.8 662.2 459.7 658.6 C464.7 655.0 469.7 651.4 474.7 648.1 C479.7 644.9 484.6 642.0 489.6 639.2 C494.6 636.3 499.6 633.6 504.6 630.9 C509.5 628.3 514.5 625.7 519.5 623.5 C524.5 621.2 529.4 619.4 534.4 617.5 C539.4 615.6 544.4 613.8 549.4 612.3 C554.3 610.8 559.3 609.6 564.3 608.5 C569.3 607.5 574.3 606.8 579.2 606.0 C584.2 605.3 588.0 604.5 594.2 604.1 C600.3 603.6 608.8 603.8 616.2 603.4 C623.7 603.1 631.4 603.0 638.9 602.0 C646.5 601.1 654.1 599.7 661.6 597.8 C669.2 595.9 676.8 593.3 684.3 590.7 C691.9 588.1 699.5 585.2 707.0 582.2 C714.6 579.1 722.2 575.1 729.7 572.2 C737.3 569.4 744.1 567.0 752.4 565.1 C760.8 563.3 772.9 561.3 780.0 561.3 C787.1 561.2 790.2 563.0 795.2 565.1 C800.3 567.2 805.4 570.4 810.5 574.0 C815.6 577.6 820.6 581.2 825.7 586.7 C830.8 592.2 835.9 598.9 840.9 607.0 C846.0 615.0 851.1 625.2 856.2 634.9 C861.3 644.6 866.3 654.8 871.4 665.4 C876.5 676.0 881.6 687.4 886.7 698.4 C891.7 709.4 896.8 720.4 901.9 731.4 C907.0 742.4 912.0 753.4 917.1 764.4 C922.2 775.4 927.3 786.4 932.4 797.4 C937.4 808.4 942.5 819.9 947.6 830.4 C952.7 841.0 958.6 852.4 962.8 860.9 C967.1 869.4 970.0 876.1 973.0 881.2 C976.0 886.3 978.3 889.9 980.6 891.4 C982.9 892.9 985.1 891.0 987.0 890.1 C988.9 889.3 991.2 886.9 992.0 886.3" fill="none" stroke="#E8731F" stroke-width="3.5" stroke-linecap="round"/>
<path d="M237.4 454.4 C237.7 460.7 238.5 479.4 239.3 492.3 C240.0 505.1 240.8 517.5 241.9 531.5 C243.0 545.4 244.7 562.9 245.8 575.9 C246.9 589.0 247.3 598.6 248.4 609.9 C249.5 621.2 250.6 633.4 252.3 643.9 C254.1 654.3 255.2 663.5 258.9 672.6 C262.6 681.8 269.3 691.8 274.6 698.8 C279.8 705.7 285.0 710.6 290.2 714.5 C295.5 718.3 300.3 720.3 305.9 721.8 C311.6 723.3 318.1 724.0 324.2 723.6 C330.3 723.3 336.0 722.1 342.5 719.7 C349.1 717.3 356.5 713.4 363.4 709.2 C370.4 705.1 378.2 698.4 384.3 694.9 C390.4 691.3 394.9 691.1 400.0 687.7 C405.1 684.3 410.0 678.6 414.9 674.3 C419.9 669.9 424.9 665.7 429.9 661.6 C434.9 657.5 439.8 653.4 444.8 649.6 C449.8 645.9 454.8 642.4 459.7 639.2 C464.7 635.9 469.7 633.1 474.7 630.2 C479.7 627.3 484.6 624.5 489.6 622.0 C494.6 619.5 499.6 617.4 504.6 615.3 C509.5 613.1 514.5 611.2 519.5 609.3 C524.5 607.4 529.4 605.7 534.4 604.1 C539.4 602.4 544.4 600.9 549.4 599.6 C554.3 598.3 559.3 597.3 564.3 596.3 C569.3 595.3 574.3 594.4 579.2 593.6 C584.2 592.8 588.0 592.4 594.2 591.7 C600.3 590.9 608.8 590.4 616.2 589.3 C623.7 588.1 631.4 586.9 638.9 585.0 C646.5 583.1 654.1 580.5 661.6 577.9 C669.2 575.3 676.8 572.2 684.3 569.4 C691.9 566.6 699.5 563.7 707.0 560.9 C714.6 558.0 722.2 555.0 729.7 552.4 C737.3 549.8 744.9 547.2 752.4 545.3 C760.0 543.4 769.3 541.5 775.1 541.0 C781.0 540.5 782.6 541.2 787.6 542.2 C792.7 543.3 799.9 544.5 805.4 547.3 C810.9 550.0 815.6 553.9 820.6 558.7 C825.7 563.6 830.8 570.1 835.9 576.5 C840.9 582.8 846.0 589.2 851.1 596.8 C856.2 604.4 861.3 612.9 866.3 622.2 C871.4 631.5 876.5 642.5 881.6 652.7 C886.7 662.8 891.7 672.1 896.8 683.1 C901.9 694.2 907.0 706.8 912.0 718.7 C917.1 730.6 922.2 742.4 927.3 754.3 C932.4 766.1 937.4 778.4 942.5 789.8 C947.6 801.2 953.5 813.1 957.8 822.8 C962.0 832.5 965.2 842.3 967.9 848.2 C970.7 854.1 972.1 857.1 974.3 858.4 C976.4 859.6 978.7 859.6 980.6 855.8 C982.5 852.0 984.2 842.3 985.7 835.5 C987.2 828.7 988.4 820.9 989.5 815.2 C990.6 809.5 991.6 803.6 992.0 801.2" fill="none" stroke="#000" stroke-width="2.2" stroke-dasharray="9 7.8"/>
<path d="M236.7 727.5 C236.8 731.9 236.6 744.1 237.4 753.7 C238.3 763.3 240.1 775.0 241.9 785.0 C243.7 795.1 246.2 806.4 248.4 813.8 C250.6 821.2 253.0 826.0 255.0 829.5 C256.9 833.0 256.9 834.3 260.2 834.7 C263.4 835.1 269.5 834.0 274.6 832.1 C279.6 830.1 284.1 827.5 290.2 822.9 C296.3 818.4 304.2 810.7 311.2 804.6 C318.1 798.5 325.1 792.4 332.1 786.3 C339.0 780.2 346.0 774.1 353.0 768.0 C359.9 761.9 366.9 755.8 373.9 749.7 C380.9 743.6 388.0 737.2 394.8 731.4 C401.6 725.7 409.1 720.3 414.9 715.3 C420.8 710.4 424.9 706.1 429.9 701.9 C434.9 697.7 439.8 693.9 444.8 689.9 C449.8 686.0 454.8 681.9 459.7 678.0 C464.7 674.1 469.7 670.3 474.7 666.8 C479.7 663.3 484.6 660.2 489.6 657.1 C494.6 654.0 499.6 650.7 504.6 648.1 C509.5 645.5 514.5 643.5 519.5 641.4 C524.5 639.3 529.4 637.3 534.4 635.4 C539.4 633.6 544.4 631.8 549.4 630.2 C554.3 628.6 559.3 627.1 564.3 625.7 C569.3 624.4 574.3 623.1 579.2 622.0 C584.2 620.9 588.0 619.7 594.2 619.0 C600.3 618.3 608.8 618.2 616.2 617.6 C623.7 617.1 631.4 616.4 638.9 615.7 C646.5 614.9 654.1 614.5 661.6 613.4 C669.2 612.3 676.8 610.8 684.3 609.1 C691.9 607.5 699.5 605.6 707.0 603.4 C714.6 601.3 722.2 598.7 729.7 596.4 C737.3 594.0 744.1 591.1 752.4 589.3 C760.8 587.4 772.9 585.6 780.0 585.4 C787.1 585.2 790.2 586.4 795.2 587.9 C800.3 589.4 805.4 591.1 810.5 594.3 C815.6 597.4 821.5 602.7 825.7 607.0 C829.9 611.2 831.6 612.9 835.9 619.7 C840.1 626.4 846.0 637.4 851.1 647.6 C856.2 657.8 861.3 669.2 866.3 680.6 C871.4 692.0 876.5 704.3 881.6 716.2 C886.7 728.0 891.7 739.9 896.8 751.7 C901.9 763.6 907.0 775.4 912.0 787.3 C917.1 799.1 922.2 811.0 927.3 822.8 C932.4 834.7 937.4 846.5 942.5 858.4 C947.6 870.2 953.5 883.3 957.8 893.9 C962.0 904.5 965.0 914.7 967.9 921.8 C970.9 929.0 972.8 933.5 975.5 937.1 C978.3 940.7 982.9 942.4 984.4 943.4" fill="none" stroke="#000" stroke-width="2.2" stroke-dasharray="9 7.8"/>
<path d="M457.0 1084.1 L457.2 1083.3 L457.4 1082.1 L457.8 1080.8 L458.3 1079.5 L459.3 1078.5 L460.8 1077.9 L462.6 1077.4 L464.6 1077.1 L466.9 1076.7 L469.2 1076.2 L471.7 1075.7 L474.4 1075.1 L477.2 1074.4 L479.9 1073.7 L482.3 1072.9 L484.5 1072.1 L486.5 1071.2 L488.4 1070.1 L490.3 1069.0 L492.2 1067.7 L494.2 1066.1 L496.1 1064.4 L498.1 1062.5 L500.1 1060.6 L502.1 1058.8 L504.0 1057.0 L506.0 1055.2 L508.0 1053.4 L509.9 1051.6 L511.9 1049.9 L513.9 1048.3 L515.9 1046.7 L517.8 1045.2 L519.8 1043.7 L521.8 1042.4 L523.7 1041.1 L525.7 1039.9 L527.7 1038.8 L529.7 1037.7 L531.6 1036.8 L533.6 1036.0 L535.6 1035.3 L537.5 1034.6 L539.5 1034.0 L541.5 1033.5 L543.5 1033.0 L545.4 1032.6 L547.4 1032.3 L549.4 1031.9 L551.3 1031.5 L553.3 1031.1 L555.3 1030.7 L557.3 1030.3 L559.2 1029.8 L561.2 1029.2 L563.2 1028.6 L565.1 1027.8 L567.1 1027.0 L569.1 1026.0 L571.1 1025.0 L573.0 1023.7 L575.0 1022.2 L577.0 1020.7 L578.9 1019.1 L580.9 1017.7 L582.9 1016.5 L584.9 1015.5 L587.0 1014.5 L588.9 1013.3 L590.8 1011.8 L592.5 1010.0 L594.1 1007.8 L595.7 1005.5 L597.3 1003.3 L599.0 1001.3 L600.8 999.5 L602.6 997.7 L604.5 996.1 L606.6 994.6 L609.0 993.5 L611.6 992.8 L614.6 992.5 L617.7 992.3 L620.8 992.2 L623.9 992.0 L626.9 991.8 L629.9 991.5 L632.9 991.2 L635.8 990.9 L638.8 990.5 L641.8 990.2 L644.8 989.8 L647.8 989.4 L650.8 988.7 L653.8 987.6 L656.8 985.9 L659.7 983.7 L662.7 981.3 L665.7 979.0 L668.7 977.1 L671.7 975.6 L674.8 974.2 L677.9 973.0 L680.8 972.0 L683.6 971.1 L686.3 970.4 L688.8 969.7 L691.2 969.3 L693.4 969.0 L695.6 969.0 L697.6 969.3 L699.5 969.8 L701.2 970.5 L702.9 971.5 L704.6 972.6 L706.1 973.9 L707.7 975.4 L709.1 977.1 L710.6 979.1 L712.0 981.6 L713.5 984.8 L715.1 988.7 L716.6 992.8 L718.1 996.5 L719.5 999.5 L720.7 1001.6 L721.8 1003.2 L722.9 1004.3 L724.1 1005.0 L725.5 1005.5 L727.1 1005.4 L728.8 1004.9 L730.7 1004.0 L732.6 1003.1 L734.4 1002.5 L736.2 1002.0 L738.0 1001.4 L739.8 1001.0 L741.6 1000.8 L743.4 1001.0 L745.1 1001.7 L746.8 1002.8 L748.6 1004.1 L750.4 1005.6 L752.4 1007.0 L754.6 1008.3 L756.9 1009.6 L759.4 1011.1 L761.9 1012.6 L764.3 1014.4 L766.7 1016.5 L769.2 1018.8 L771.7 1021.2 L774.1 1023.7 L776.3 1026.4 L778.3 1029.2 L780.1 1032.2 L781.9 1035.2 L783.6 1038.3 L785.2 1041.3 L786.8 1044.1 L788.5 1046.6 L790.0 1049.2 L791.4 1052.3 L792.7 1056.3 L793.8 1061.2 L794.8 1066.9 L795.6 1073.0 L796.4 1079.5 L797.2 1086.1 L797.9 1093.2 L798.5 1100.9 L799.0 1108.6 L799.6 1115.9 L800.1 1122.0 L800.7 1126.9 L801.2 1130.9 L801.7 1134.2 L802.3 1137.2 L803.1 1139.9 L804.0 1142.3 L805.0 1144.1 L806.1 1145.6 L807.5 1147.1 L809.1 1148.9 L811.1 1150.9 L813.5 1153.1 L816.0 1155.3 L818.6 1157.4 L821.1 1159.3 L823.5 1160.9 L826.1 1162.2 L828.7 1163.4 L831.0 1164.9 L833.0 1166.8 L834.5 1169.1 L835.7 1171.7 L836.7 1174.5 L837.7 1177.9 L839.0 1181.7 L840.6 1186.4 L842.4 1191.8 L844.2 1197.5 L846.1 1203.2 L847.9 1208.6 L849.7 1213.6 L851.5 1218.5 L853.3 1223.3 L855.1 1228.0 L856.9 1232.5 L858.7 1237.0 L860.5 1241.5 L862.3 1245.7 L864.1 1249.8 L865.9 1253.4 L867.7 1256.9 L869.5 1260.1 L871.2 1263.0 L873.0 1265.4 L874.8 1266.9 L876.6 1267.3 L878.4 1266.8 L880.2 1265.8 L882.0 1264.7 L883.8 1263.9 L885.6 1263.3 L887.4 1262.7 L889.2 1262.2 L891.0 1261.9 L892.8 1261.8 L894.5 1262.0 L896.3 1262.4 L898.1 1263.1 L899.9 1263.9 L901.7 1264.8 L903.6 1266.0 L905.4 1267.5 L907.3 1269.0 L909.1 1270.4 L910.7 1271.3 L912.1 1271.9 L913.4 1272.3 L914.5 1272.3 L915.6 1272.0 L916.7 1271.3 L917.6 1270.6 L918.6 1269.7 L919.4 1268.3 L920.3 1266.0 L921.1 1262.4 L922.1 1256.8 L923.0 1249.6 L923.9 1241.5 L924.8 1233.6 L925.6 1226.5 L926.3 1220.2 L926.9 1214.1 L927.5 1208.4 L928.0 1203.5 L928.6 1199.7 L929.2 1197.1 L929.8 1195.5 L930.4 1194.8 L931.0 1194.8 L931.6 1195.2 L932.2 1196.0 L932.7 1197.3 L933.3 1199.3 L933.9 1202.1 L934.6 1205.6 L935.4 1210.7 L936.4 1217.2 L937.4 1224.2 L938.4 1230.6 L939.1 1235.5 L939.4 1238.3 L939.4 1239.5 L939.4 1240.2 L939.5 1241.3 L940.0 1243.6 L940.8 1247.5 L942.0 1252.5 L943.2 1257.9 L944.6 1263.0 L946.0 1267.4 L947.4 1271.2 L948.9 1274.8 L950.5 1277.9 L952.0 1280.0 L953.4 1280.8 L954.7 1280.1 L956.0 1278.0 L957.3 1275.0 L958.4 1271.4 L959.4 1267.4 L960.2 1263.1 L960.8 1258.4 L961.3 1253.0 L961.8 1247.1 L962.3 1240.6 L962.9 1232.8 L963.5 1223.7 L964.1 1214.3 L964.7 1205.7 L965.3 1198.9 L965.9 1194.0 L966.4 1190.4 L967.0 1187.8 L967.6 1185.8 L968.3 1184.0 L969.1 1182.4 L970.0 1181.4 L970.9 1180.9 L971.9 1180.7 L972.8 1181.0 L973.6 1181.8 L974.5 1183.2 L975.4 1185.0 L976.3 1186.8 L977.2 1188.4 L978.3 1190.0 L979.5 1191.7 L980.6 1193.3 L981.9 1194.8 L983.2 1195.9 L984.6 1196.7 L986.0 1197.3 L987.5 1197.6 L989.0 1197.6 L990.7 1197.4 L992.3 1196.6 L994.0 1195.3 L995.7 1193.8 L997.6 1192.4 L999.6 1191.4 L1001.8 1190.7 L1004.3 1190.2 L1006.8 1189.9 L1009.3 1189.8 L1011.5 1189.9 L1013.5 1190.3 L1015.4 1190.9 L1017.2 1191.7 L1018.9 1192.8 L1020.5 1194.4 L1021.8 1196.6 L1023.1 1199.5 L1024.2 1202.7 L1025.3 1205.5 L1026.4 1207.8 L1027.6 1209.4 L1028.8 1210.7 L1030.0 1211.6 L1031.2 1212.1 L1032.4 1212.3 L1033.6 1212.0 L1034.8 1211.3 L1036.0 1210.2 L1037.1 1209.0 L1038.3 1207.8 L1039.5 1206.4 L1040.6 1204.8 L1041.7 1203.1 L1042.9 1201.5 L1044.3 1200.4 L1045.9 1199.5 L1047.7 1198.9 L1049.5 1198.5 L1051.4 1198.3 L1053.2 1198.3 L1055.0 1198.6 L1056.8 1199.4 L1058.6 1200.2 L1060.4 1200.9 L1062.2 1201.2 L1064.0 1201.1 L1065.8 1200.6 L1067.6 1200.0 L1069.4 1199.4 L1071.1 1198.9 L1072.7 1198.4 L1074.2 1198.0 L1075.7 1197.6 L1077.1 1197.4 L1078.6 1197.4 L1080.1 1197.6 L1081.6 1198.1 L1083.1 1198.7 L1084.6 1199.5 L1086.0 1200.4 L1087.5 1201.4 L1089.0 1202.8 L1090.5 1204.2 L1091.7 1205.5 L1092.6 1206.3 L1092.6 1240.3 L1091.7 1239.5 L1090.5 1238.2 L1089.0 1236.8 L1087.5 1235.4 L1086.0 1234.4 L1084.6 1233.5 L1083.1 1232.7 L1081.6 1232.1 L1080.1 1231.6 L1078.6 1231.4 L1077.1 1231.4 L1075.7 1231.6 L1074.2 1232.0 L1072.7 1232.4 L1071.1 1232.9 L1069.4 1233.4 L1067.6 1234.0 L1065.8 1234.6 L1064.0 1235.1 L1062.2 1235.2 L1060.4 1234.9 L1058.6 1234.2 L1056.8 1233.4 L1055.0 1232.6 L1053.2 1232.3 L1051.4 1232.3 L1049.5 1232.5 L1047.7 1232.9 L1045.9 1233.5 L1044.3 1234.4 L1042.9 1235.5 L1041.7 1237.1 L1040.6 1238.8 L1039.5 1240.4 L1038.3 1241.8 L1037.1 1243.0 L1036.0 1244.2 L1034.8 1245.3 L1033.6 1246.0 L1032.4 1246.3 L1031.2 1246.1 L1030.0 1245.6 L1028.8 1244.7 L1027.6 1243.4 L1026.4 1241.8 L1025.3 1239.5 L1024.2 1236.7 L1023.1 1233.5 L1021.8 1230.6 L1020.5 1228.4 L1018.9 1226.8 L1017.2 1225.7 L1015.4 1224.9 L1013.5 1224.3 L1011.5 1223.9 L1009.3 1223.8 L1006.8 1223.9 L1004.3 1224.2 L1001.8 1224.7 L999.6 1225.4 L997.6 1226.4 L995.7 1227.8 L994.0 1229.3 L992.3 1230.6 L990.7 1231.4 L989.0 1231.6 L987.5 1231.6 L986.0 1231.3 L984.6 1230.7 L983.2 1229.9 L981.9 1228.8 L980.6 1227.3 L979.5 1225.7 L978.3 1224.0 L977.2 1222.4 L976.3 1220.8 L975.4 1219.0 L974.5 1217.2 L973.6 1215.8 L972.8 1215.0 L971.9 1214.7 L970.9 1214.9 L970.0 1215.4 L969.1 1216.4 L968.3 1218.0 L967.6 1219.8 L967.0 1221.8 L966.4 1224.4 L965.9 1228.0 L965.3 1232.9 L964.7 1239.7 L964.1 1248.3 L963.5 1257.7 L962.9 1266.8 L962.3 1274.6 L961.8 1281.1 L961.3 1287.0 L960.8 1292.4 L960.2 1297.1 L959.4 1301.4 L958.4 1305.4 L957.3 1309.0 L956.0 1312.0 L954.7 1314.1 L953.4 1314.8 L952.0 1314.0 L950.5 1311.9 L948.9 1308.8 L947.4 1305.2 L946.0 1301.4 L944.6 1297.0 L943.2 1291.9 L942.0 1286.5 L940.8 1281.5 L940.0 1277.6 L939.5 1275.3 L939.4 1274.2 L939.4 1273.5 L939.4 1272.3 L939.1 1269.5 L938.4 1264.6 L937.4 1258.2 L936.4 1251.2 L935.4 1244.7 L934.6 1239.6 L933.9 1236.1 L933.3 1233.3 L932.7 1231.3 L932.2 1230.0 L931.6 1229.2 L931.0 1228.8 L930.4 1228.8 L929.8 1229.5 L929.2 1231.1 L928.6 1233.7 L928.0 1237.5 L927.5 1242.4 L926.9 1248.1 L926.3 1254.2 L925.6 1260.5 L924.8 1267.6 L923.9 1275.5 L923.0 1283.6 L922.1 1290.8 L921.1 1296.4 L920.3 1300.0 L919.4 1302.3 L918.6 1303.7 L917.6 1304.6 L916.7 1305.3 L915.6 1306.0 L914.5 1306.3 L913.4 1306.3 L912.1 1305.9 L910.7 1305.3 L909.1 1304.4 L907.3 1303.0 L905.4 1301.5 L903.6 1300.0 L901.7 1298.8 L899.9 1297.9 L898.1 1297.1 L896.3 1296.4 L894.5 1296.0 L892.8 1295.8 L891.0 1295.9 L889.2 1296.2 L887.4 1296.7 L885.6 1297.3 L883.8 1297.9 L882.0 1298.7 L880.2 1299.8 L878.4 1300.8 L876.6 1301.3 L874.8 1300.9 L873.0 1299.4 L871.2 1297.0 L869.5 1294.1 L867.7 1290.9 L865.9 1287.4 L864.1 1283.8 L862.3 1279.7 L860.5 1275.5 L858.7 1271.0 L856.9 1266.5 L855.1 1262.0 L853.3 1257.3 L851.5 1252.5 L849.7 1247.6 L847.9 1242.6 L846.1 1237.2 L844.2 1231.5 L842.4 1225.8 L840.6 1220.4 L839.0 1215.7 L837.7 1211.9 L836.7 1208.5 L835.7 1205.7 L834.5 1203.1 L833.0 1200.8 L831.0 1198.9 L828.7 1197.4 L826.1 1196.2 L823.5 1194.9 L821.1 1193.3 L818.6 1191.4 L816.0 1189.3 L813.5 1187.1 L811.1 1184.9 L809.1 1182.9 L807.5 1181.1 L806.1 1179.6 L805.0 1178.1 L804.0 1176.3 L803.1 1173.9 L802.3 1171.2 L801.7 1168.2 L801.2 1164.9 L800.7 1160.9 L800.1 1156.0 L799.6 1149.9 L799.0 1142.6 L798.5 1134.9 L797.9 1127.2 L797.2 1120.1 L796.4 1113.5 L795.6 1107.0 L794.8 1100.9 L793.8 1095.2 L792.7 1090.3 L791.4 1086.3 L790.0 1083.2 L788.5 1080.6 L786.8 1078.1 L785.2 1075.3 L783.6 1072.3 L781.9 1069.2 L780.1 1066.2 L778.3 1063.2 L776.3 1060.4 L774.1 1057.7 L771.7 1055.2 L769.2 1052.8 L766.7 1050.5 L764.3 1048.4 L761.9 1046.6 L759.4 1045.1 L756.9 1043.6 L754.6 1042.3 L752.4 1041.0 L750.4 1039.6 L748.6 1038.1 L746.8 1036.8 L745.1 1035.7 L743.4 1035.0 L741.6 1034.8 L739.8 1035.0 L738.0 1035.4 L736.2 1036.0 L734.4 1036.5 L732.6 1037.1 L730.7 1038.0 L728.8 1038.9 L727.1 1039.4 L725.5 1039.5 L724.1 1039.0 L722.9 1038.3 L721.8 1037.2 L720.7 1035.6 L719.5 1033.5 L718.1 1030.5 L716.6 1026.8 L715.1 1022.7 L713.5 1018.8 L712.0 1015.6 L710.6 1013.1 L709.1 1011.1 L707.7 1009.4 L706.1 1007.9 L704.6 1006.6 L702.9 1005.5 L701.2 1004.5 L699.5 1003.8 L697.6 1003.3 L695.6 1003.0 L693.4 1003.0 L691.2 1003.3 L688.8 1003.7 L686.3 1004.4 L683.6 1005.1 L680.8 1006.0 L677.9 1007.0 L674.8 1008.2 L671.7 1009.6 L668.7 1011.1 L665.7 1013.0 L662.7 1015.3 L659.7 1017.7 L656.8 1019.9 L653.8 1021.6 L650.8 1022.7 L647.8 1023.4 L644.8 1023.8 L641.8 1024.2 L638.8 1024.5 L635.8 1024.9 L632.9 1025.2 L629.9 1025.5 L626.9 1025.8 L623.9 1026.0 L620.8 1026.2 L617.7 1026.3 L614.6 1026.5 L611.6 1026.8 L609.0 1027.5 L606.6 1028.6 L604.5 1030.1 L602.6 1031.7 L600.8 1033.5 L599.0 1035.3 L597.3 1037.3 L595.7 1039.5 L594.1 1041.8 L592.5 1044.0 L590.8 1045.8 L588.9 1047.3 L587.0 1048.5 L584.9 1049.5 L582.9 1050.5 L580.9 1051.7 L578.9 1053.1 L577.0 1054.7 L575.0 1056.2 L573.0 1057.7 L571.1 1059.0 L569.1 1060.0 L567.1 1061.0 L565.1 1061.8 L563.2 1062.6 L561.2 1063.2 L559.2 1063.8 L557.3 1064.3 L555.3 1064.7 L553.3 1065.1 L551.3 1065.5 L549.4 1065.9 L547.4 1066.3 L545.4 1066.6 L543.5 1067.0 L541.5 1067.5 L539.5 1068.0 L537.5 1068.6 L535.6 1069.3 L533.6 1070.0 L531.6 1070.8 L529.7 1071.7 L527.7 1072.8 L525.7 1073.9 L523.7 1075.1 L521.8 1076.4 L519.8 1077.7 L517.8 1079.2 L515.9 1080.7 L513.9 1082.3 L511.9 1083.9 L509.9 1085.6 L508.0 1087.4 L506.0 1089.2 L504.0 1091.0 L502.1 1092.8 L500.1 1094.6 L498.1 1096.5 L496.1 1098.4 L494.2 1100.1 L492.2 1101.7 L490.3 1103.0 L488.4 1104.1 L486.5 1105.2 L484.5 1106.1 L482.3 1106.9 L479.9 1107.7 L477.2 1108.4 L474.4 1109.1 L471.7 1109.7 L469.2 1110.2 L466.9 1110.7 L464.6 1111.1 L462.6 1111.4 L460.8 1111.9 L459.3 1112.5 L458.3 1113.5 L457.8 1114.8 L457.4 1116.1 L457.2 1117.3 L457.0 1118.1 Z" fill="#555" stroke="none" fill-opacity="0.43"/>
<path d="M457.0 1101.1 C457.4 1100.2 457.3 1096.8 459.3 1095.5 C461.4 1094.2 465.4 1094.2 469.2 1093.2 C473.0 1092.3 478.5 1091.4 482.3 1089.9 C486.2 1088.5 488.9 1087.0 492.2 1084.7 C495.5 1082.3 498.8 1078.8 502.1 1075.8 C505.3 1072.9 508.6 1069.7 511.9 1066.9 C515.2 1064.2 518.5 1061.6 521.8 1059.4 C525.1 1057.2 528.3 1055.3 531.6 1053.8 C534.9 1052.3 538.2 1051.4 541.5 1050.5 C544.8 1049.6 548.1 1049.2 551.3 1048.5 C554.6 1047.8 557.9 1047.3 561.2 1046.2 C564.5 1045.1 567.8 1043.9 571.1 1042.0 C574.3 1040.0 577.6 1036.9 580.9 1034.7 C584.2 1032.5 587.8 1031.6 590.8 1028.8 C593.8 1026.1 596.0 1021.4 599.0 1018.3 C602.0 1015.3 604.8 1012.1 609.0 1010.5 C613.1 1009.0 618.9 1009.5 623.9 1009.0 C628.9 1008.5 633.9 1008.3 638.8 1007.5 C643.8 1006.8 648.8 1006.8 653.8 1004.6 C658.8 1002.3 663.7 996.8 668.7 994.1 C673.7 991.4 679.2 989.5 683.6 988.1 C688.1 986.8 692.1 985.8 695.6 986.0 C699.1 986.3 701.8 987.5 704.6 989.6 C707.3 991.7 709.5 994.1 712.0 998.6 C714.5 1003.1 717.3 1012.5 719.5 1016.5 C721.7 1020.5 723.0 1022.0 725.5 1022.5 C728.0 1023.0 731.4 1020.2 734.4 1019.5 C737.4 1018.7 740.4 1017.3 743.4 1018.0 C746.4 1018.7 748.9 1021.7 752.4 1024.0 C755.8 1026.2 760.3 1028.2 764.3 1031.4 C768.3 1034.7 772.8 1038.9 776.3 1043.4 C779.7 1047.9 782.5 1053.3 785.2 1058.3 C788.0 1063.3 790.7 1065.8 792.7 1073.3 C794.7 1080.7 795.9 1092.2 797.2 1103.1 C798.4 1114.1 799.2 1130.0 800.1 1139.0 C801.1 1147.9 801.6 1152.4 803.1 1156.9 C804.6 1161.4 806.1 1162.6 809.1 1165.9 C812.1 1169.1 817.1 1173.3 821.1 1176.3 C825.0 1179.3 830.0 1180.1 833.0 1183.8 C836.0 1187.5 836.5 1191.8 839.0 1198.7 C841.5 1205.7 845.0 1217.2 847.9 1225.6 C850.9 1234.1 853.9 1242.0 856.9 1249.5 C859.9 1257.0 862.9 1264.7 865.9 1270.4 C868.9 1276.2 871.8 1282.1 874.8 1283.9 C877.8 1285.6 880.8 1281.7 883.8 1280.9 C886.8 1280.0 889.8 1278.6 892.8 1278.8 C895.7 1278.9 898.7 1280.2 901.7 1281.8 C904.7 1283.4 908.2 1287.3 910.7 1288.3 C913.2 1289.4 914.9 1289.8 916.7 1288.3 C918.4 1286.9 919.6 1286.9 921.1 1279.4 C922.6 1271.9 924.4 1254.0 925.6 1243.5 C926.9 1233.1 927.6 1221.9 928.6 1216.7 C929.6 1211.4 930.6 1211.2 931.6 1212.2 C932.6 1213.2 933.3 1215.9 934.6 1222.6 C935.8 1229.4 938.2 1246.2 939.1 1252.5 C940.0 1258.8 938.8 1255.2 940.0 1260.6 C941.2 1265.9 943.7 1278.2 946.0 1284.4 C948.2 1290.6 951.2 1297.8 953.4 1297.8 C955.6 1297.8 957.9 1291.1 959.4 1284.4 C960.9 1277.7 961.4 1269.0 962.3 1257.6 C963.3 1246.2 964.3 1225.3 965.3 1215.9 C966.3 1206.4 967.1 1203.9 968.3 1201.0 C969.5 1198.0 971.3 1197.2 972.8 1198.0 C974.3 1198.7 975.5 1202.9 977.2 1205.4 C979.0 1207.9 981.0 1211.4 983.2 1212.9 C985.4 1214.4 987.9 1215.1 990.7 1214.4 C993.4 1213.6 996.1 1209.7 999.6 1208.4 C1003.1 1207.2 1008.0 1206.4 1011.5 1206.9 C1015.0 1207.4 1018.0 1208.4 1020.5 1211.4 C1022.9 1214.4 1024.4 1221.8 1026.4 1224.8 C1028.4 1227.8 1030.4 1229.3 1032.4 1229.3 C1034.4 1229.3 1036.3 1226.8 1038.3 1224.8 C1040.3 1222.8 1041.8 1218.9 1044.3 1217.4 C1046.8 1215.8 1050.3 1215.1 1053.2 1215.3 C1056.2 1215.4 1059.2 1218.1 1062.2 1218.2 C1065.2 1218.3 1068.4 1216.5 1071.1 1215.9 C1073.8 1215.2 1076.1 1214.1 1078.6 1214.4 C1081.0 1214.6 1083.7 1215.9 1086.0 1217.4 C1088.3 1218.8 1091.5 1222.3 1092.6 1223.3" fill="none" stroke="#000" stroke-width="3.6" stroke-linejoin="round"/>
<path d="M329.5 1121.6 L330.6 1121.3 L332.1 1120.8 L333.9 1120.3 L335.9 1119.6 L337.7 1119.0 L339.6 1118.3 L341.6 1117.5 L343.6 1116.7 L345.6 1115.9 L347.6 1115.0 L349.6 1114.2 L351.5 1113.3 L353.5 1112.4 L355.5 1111.3 L357.5 1110.1 L359.4 1108.7 L361.4 1107.2 L363.4 1105.6 L365.3 1103.8 L367.3 1101.9 L369.3 1099.8 L371.3 1097.5 L373.3 1095.1 L375.3 1092.7 L377.2 1090.4 L378.9 1088.0 L380.7 1085.5 L382.3 1083.0 L383.9 1080.8 L385.4 1078.9 L386.8 1077.4 L388.1 1076.3 L389.3 1075.3 L390.6 1074.6 L392.0 1074.0 L393.5 1073.6 L395.1 1073.4 L396.7 1073.4 L398.4 1073.3 L400.2 1073.0 L402.0 1072.3 L404.0 1071.5 L406.0 1070.5 L408.0 1069.7 L410.0 1069.0 L412.0 1068.6 L414.0 1068.3 L416.0 1068.1 L417.9 1068.0 L419.9 1068.0 L421.9 1068.2 L423.9 1068.4 L425.9 1068.8 L427.9 1069.2 L429.8 1069.7 L431.5 1070.4 L433.2 1071.4 L434.8 1072.3 L436.4 1072.9 L438.0 1073.0 L439.6 1072.4 L441.2 1071.2 L442.8 1069.8 L444.4 1068.1 L446.2 1066.4 L448.1 1064.5 L450.0 1062.4 L452.0 1060.2 L454.0 1058.0 L456.0 1055.9 L458.0 1053.8 L460.0 1051.6 L462.0 1049.5 L463.9 1047.6 L465.9 1046.0 L467.8 1044.8 L469.7 1043.9 L471.6 1043.2 L473.6 1042.6 L475.8 1042.1 L478.2 1041.8 L480.9 1041.7 L483.7 1041.8 L486.4 1041.6 L488.9 1041.1 L491.1 1040.1 L493.1 1038.8 L495.0 1037.3 L496.8 1035.8 L498.8 1034.5 L500.7 1033.4 L502.7 1032.4 L504.7 1031.4 L506.7 1030.5 L508.6 1029.6 L510.6 1028.7 L512.6 1028.0 L514.5 1027.2 L516.5 1026.4 L518.5 1025.7 L520.5 1024.9 L522.4 1024.2 L524.4 1023.5 L526.4 1022.6 L528.3 1021.4 L530.3 1019.6 L532.4 1017.5 L534.4 1015.2 L536.3 1013.1 L538.2 1011.5 L539.9 1010.5 L541.6 1009.9 L543.2 1009.5 L544.8 1009.3 L546.4 1009.2 L548.0 1009.4 L549.6 1009.9 L551.2 1010.4 L552.9 1010.7 L554.6 1010.5 L556.5 1009.7 L558.5 1008.4 L560.5 1006.9 L562.5 1005.3 L564.5 1004.0 L566.5 1002.7 L568.4 1001.5 L570.4 1000.3 L572.4 999.2 L574.3 998.4 L576.3 997.8 L578.3 997.3 L580.3 997.0 L582.2 996.9 L584.2 996.7 L586.2 996.8 L588.1 997.0 L590.1 997.2 L592.1 997.4 L594.1 997.4 L596.1 997.1 L598.2 996.8 L600.3 996.3 L602.3 995.7 L603.9 995.1 L605.1 994.4 L605.9 993.7 L606.6 993.0 L607.5 992.1 L609.0 991.0 L611.2 989.7 L613.9 988.0 L616.8 986.3 L619.8 984.9 L622.4 984.2 L624.7 984.2 L626.7 984.9 L628.7 985.9 L630.7 987.0 L632.9 988.1 L635.1 989.1 L637.4 990.3 L639.7 991.5 L642.2 992.5 L644.8 993.1 L647.7 993.2 L650.7 992.7 L653.8 992.2 L656.9 991.8 L659.7 991.9 L662.3 992.7 L664.6 994.0 L666.8 995.5 L669.2 997.0 L671.7 998.5 L674.5 1000.0 L677.5 1001.6 L680.5 1003.2 L683.6 1004.7 L686.6 1006.0 L689.6 1007.1 L692.6 1008.0 L695.6 1008.8 L698.6 1009.5 L701.6 1009.9 L704.6 1010.1 L707.7 1010.0 L710.7 1009.8 L713.7 1009.5 L716.5 1009.0 L719.1 1008.4 L721.5 1007.8 L723.8 1007.0 L726.1 1005.9 L728.5 1004.5 L730.8 1002.6 L733.2 1000.3 L735.6 997.7 L738.0 995.1 L740.4 992.5 L742.8 990.2 L745.3 987.8 L747.7 985.4 L750.1 983.0 L752.4 980.6 L754.6 978.1 L756.8 975.6 L758.9 973.0 L760.9 970.7 L762.8 968.6 L764.5 966.9 L766.0 965.3 L767.4 963.9 L768.8 962.8 L770.3 962.1 L771.7 961.7 L773.1 961.7 L774.5 962.0 L776.1 962.5 L777.7 963.3 L779.6 964.2 L781.5 965.4 L783.6 966.8 L785.8 968.3 L788.2 970.1 L790.9 972.2 L793.9 974.5 L796.9 977.0 L800.1 979.5 L803.1 982.1 L806.1 984.7 L809.1 987.4 L812.1 990.2 L815.1 992.9 L818.1 995.5 L821.1 998.0 L824.2 1000.3 L827.3 1002.6 L830.2 1004.9 L833.0 1007.5 L835.6 1010.1 L838.0 1012.8 L840.3 1015.7 L842.6 1018.8 L845.0 1022.4 L847.3 1026.7 L849.7 1031.5 L852.1 1036.5 L854.5 1041.6 L856.9 1046.3 L859.3 1050.7 L861.5 1054.9 L863.9 1059.0 L866.3 1063.1 L868.9 1067.2 L871.7 1071.4 L874.6 1075.7 L877.7 1079.9 L880.8 1084.1 L883.8 1088.1 L886.8 1092.2 L889.8 1096.2 L892.8 1100.2 L895.7 1104.0 L898.7 1107.6 L901.7 1110.9 L904.7 1113.9 L907.7 1116.8 L910.7 1119.7 L913.7 1122.5 L916.7 1125.2 L919.8 1127.7 L922.9 1130.2 L925.8 1132.9 L928.6 1135.9 L931.1 1139.5 L933.5 1143.5 L935.8 1147.6 L937.9 1151.5 L940.0 1154.7 L941.9 1156.9 L943.8 1158.5 L945.5 1159.8 L947.2 1161.3 L948.9 1163.6 L950.7 1166.9 L952.5 1171.0 L954.3 1175.3 L956.1 1179.4 L957.9 1183.0 L959.6 1186.0 L961.3 1188.7 L963.0 1191.1 L964.8 1193.2 L966.8 1194.9 L969.0 1196.1 L971.4 1196.7 L973.8 1197.1 L976.3 1197.4 L978.7 1197.9 L981.2 1198.4 L983.6 1198.9 L986.1 1199.5 L988.5 1200.1 L990.7 1200.9 L992.6 1201.9 L994.3 1203.1 L995.9 1204.3 L997.7 1205.6 L999.6 1206.8 L1001.8 1208.0 L1004.1 1209.2 L1006.6 1210.4 L1009.1 1211.4 L1011.5 1212.2 L1013.9 1212.7 L1016.3 1212.9 L1018.7 1213.0 L1021.1 1213.0 L1023.4 1212.8 L1025.8 1212.3 L1028.2 1211.6 L1030.6 1210.8 L1033.0 1210.2 L1035.4 1209.8 L1037.7 1209.8 L1040.1 1210.0 L1042.5 1210.4 L1044.9 1210.8 L1047.3 1211.3 L1049.7 1211.8 L1052.0 1212.4 L1054.4 1213.0 L1056.8 1213.7 L1059.2 1214.3 L1061.6 1214.9 L1064.0 1215.5 L1066.3 1216.1 L1068.7 1216.7 L1071.1 1217.3 L1073.5 1217.9 L1076.0 1218.6 L1078.4 1219.2 L1080.8 1219.8 L1083.0 1220.2 L1085.2 1220.5 L1087.5 1220.7 L1089.6 1220.7 L1091.3 1220.8 L1092.6 1220.8 L1092.6 1250.8 L1091.3 1250.8 L1089.6 1250.7 L1087.5 1250.7 L1085.2 1250.5 L1083.0 1250.2 L1080.8 1249.8 L1078.4 1249.2 L1076.0 1248.6 L1073.5 1247.9 L1071.1 1247.3 L1068.7 1246.7 L1066.3 1246.1 L1064.0 1245.5 L1061.6 1244.9 L1059.2 1244.3 L1056.8 1243.7 L1054.4 1243.0 L1052.0 1242.4 L1049.7 1241.8 L1047.3 1241.3 L1044.9 1240.8 L1042.5 1240.4 L1040.1 1240.0 L1037.7 1239.8 L1035.4 1239.8 L1033.0 1240.2 L1030.6 1240.8 L1028.2 1241.6 L1025.8 1242.3 L1023.4 1242.8 L1021.1 1243.0 L1018.7 1243.0 L1016.3 1242.9 L1013.9 1242.7 L1011.5 1242.2 L1009.1 1241.4 L1006.6 1240.4 L1004.1 1239.2 L1001.8 1238.0 L999.6 1236.8 L997.7 1235.6 L995.9 1234.3 L994.3 1233.1 L992.6 1231.9 L990.7 1230.9 L988.5 1230.1 L986.1 1229.5 L983.6 1228.9 L981.2 1228.4 L978.7 1227.9 L976.3 1227.4 L973.8 1227.1 L971.4 1226.7 L969.0 1226.1 L966.8 1224.9 L964.8 1223.2 L963.0 1221.1 L961.3 1218.7 L959.6 1216.0 L957.9 1213.0 L956.1 1209.4 L954.3 1205.3 L952.5 1201.0 L950.7 1196.9 L948.9 1193.6 L947.2 1191.3 L945.5 1189.8 L943.8 1188.5 L941.9 1186.9 L940.0 1184.7 L937.9 1181.5 L935.8 1177.6 L933.5 1173.5 L931.1 1169.5 L928.6 1165.9 L925.8 1162.9 L922.9 1160.2 L919.8 1157.7 L916.7 1155.2 L913.7 1152.5 L910.7 1149.7 L907.7 1146.8 L904.7 1143.9 L901.7 1140.9 L898.7 1137.6 L895.7 1134.0 L892.8 1130.2 L889.8 1126.2 L886.8 1122.2 L883.8 1118.1 L880.8 1114.1 L877.7 1109.9 L874.6 1105.7 L871.7 1101.4 L868.9 1097.2 L866.3 1093.1 L863.9 1089.0 L861.5 1084.9 L859.3 1080.7 L856.9 1076.3 L854.5 1071.6 L852.1 1066.5 L849.7 1061.5 L847.3 1056.7 L845.0 1052.4 L842.6 1048.8 L840.3 1045.7 L838.0 1042.8 L835.6 1040.1 L833.0 1037.5 L830.2 1034.9 L827.3 1032.6 L824.2 1030.3 L821.1 1028.0 L818.1 1025.5 L815.1 1022.9 L812.1 1020.2 L809.1 1017.4 L806.1 1014.7 L803.1 1012.1 L800.1 1009.5 L796.9 1007.0 L793.9 1004.5 L790.9 1002.2 L788.2 1000.1 L785.8 998.3 L783.6 996.8 L781.5 995.4 L779.6 994.2 L777.7 993.3 L776.1 992.5 L774.5 992.0 L773.1 991.7 L771.7 991.7 L770.3 992.1 L768.8 992.8 L767.4 993.9 L766.0 995.3 L764.5 996.9 L762.8 998.6 L760.9 1000.7 L758.9 1003.0 L756.8 1005.6 L754.6 1008.1 L752.4 1010.6 L750.1 1013.0 L747.7 1015.4 L745.3 1017.8 L742.8 1020.2 L740.4 1022.5 L738.0 1025.1 L735.6 1027.7 L733.2 1030.3 L730.8 1032.6 L728.5 1034.5 L726.1 1035.9 L723.8 1037.0 L721.5 1037.8 L719.1 1038.4 L716.5 1039.0 L713.7 1039.5 L710.7 1039.8 L707.7 1040.0 L704.6 1040.1 L701.6 1039.9 L698.6 1039.5 L695.6 1038.8 L692.6 1038.0 L689.6 1037.1 L686.6 1036.0 L683.6 1034.7 L680.5 1033.2 L677.5 1031.6 L674.5 1030.0 L671.7 1028.5 L669.2 1027.0 L666.8 1025.5 L664.6 1024.0 L662.3 1022.7 L659.7 1021.9 L656.9 1021.8 L653.8 1022.2 L650.7 1022.7 L647.7 1023.2 L644.8 1023.1 L642.2 1022.5 L639.7 1021.5 L637.4 1020.3 L635.1 1019.1 L632.9 1018.1 L630.7 1017.0 L628.7 1015.9 L626.7 1014.9 L624.7 1014.2 L622.4 1014.2 L619.8 1014.9 L616.8 1016.3 L613.9 1018.0 L611.2 1019.7 L609.0 1021.0 L607.5 1022.1 L606.6 1023.0 L605.9 1023.7 L605.1 1024.4 L603.9 1025.1 L602.3 1025.7 L600.3 1026.3 L598.2 1026.8 L596.1 1027.1 L594.1 1027.4 L592.1 1027.4 L590.1 1027.2 L588.1 1027.0 L586.2 1026.8 L584.2 1026.7 L582.2 1026.9 L580.3 1027.0 L578.3 1027.3 L576.3 1027.8 L574.3 1028.4 L572.4 1029.2 L570.4 1030.3 L568.4 1031.5 L566.5 1032.7 L564.5 1034.0 L562.5 1035.3 L560.5 1036.9 L558.5 1038.4 L556.5 1039.7 L554.6 1040.5 L552.9 1040.7 L551.2 1040.4 L549.6 1039.9 L548.0 1039.4 L546.4 1039.2 L544.8 1039.3 L543.2 1039.5 L541.6 1039.9 L539.9 1040.5 L538.2 1041.5 L536.3 1043.1 L534.4 1045.2 L532.4 1047.5 L530.3 1049.6 L528.3 1051.4 L526.4 1052.6 L524.4 1053.5 L522.4 1054.2 L520.5 1054.9 L518.5 1055.7 L516.5 1056.4 L514.5 1057.2 L512.6 1058.0 L510.6 1058.7 L508.6 1059.6 L506.7 1060.5 L504.7 1061.4 L502.7 1062.4 L500.7 1063.4 L498.8 1064.5 L496.8 1065.8 L495.0 1067.3 L493.1 1068.8 L491.1 1070.1 L488.9 1071.1 L486.4 1071.6 L483.7 1071.8 L480.9 1071.7 L478.2 1071.8 L475.8 1072.1 L473.6 1072.6 L471.6 1073.2 L469.7 1073.9 L467.8 1074.8 L465.9 1076.0 L463.9 1077.6 L462.0 1079.5 L460.0 1081.6 L458.0 1083.8 L456.0 1085.9 L454.0 1088.0 L452.0 1090.2 L450.0 1092.4 L448.1 1094.5 L446.2 1096.4 L444.4 1098.1 L442.8 1099.8 L441.2 1101.2 L439.6 1102.4 L438.0 1103.0 L436.4 1102.9 L434.8 1102.3 L433.2 1101.4 L431.5 1100.4 L429.8 1099.7 L427.9 1099.2 L425.9 1098.8 L423.9 1098.4 L421.9 1098.2 L419.9 1098.0 L417.9 1098.0 L416.0 1098.1 L414.0 1098.3 L412.0 1098.6 L410.0 1099.0 L408.0 1099.7 L406.0 1100.5 L404.0 1101.5 L402.0 1102.3 L400.2 1103.0 L398.4 1103.3 L396.7 1103.4 L395.1 1103.4 L393.5 1103.6 L392.0 1104.0 L390.6 1104.6 L389.3 1105.3 L388.1 1106.3 L386.8 1107.4 L385.4 1108.9 L383.9 1110.8 L382.3 1113.0 L380.7 1115.5 L378.9 1118.0 L377.2 1120.4 L375.3 1122.7 L373.3 1125.1 L371.3 1127.5 L369.3 1129.8 L367.3 1131.9 L365.3 1133.8 L363.4 1135.6 L361.4 1137.2 L359.4 1138.7 L357.5 1140.1 L355.5 1141.3 L353.5 1142.4 L351.5 1143.3 L349.6 1144.2 L347.6 1145.0 L345.6 1145.9 L343.6 1146.7 L341.6 1147.5 L339.6 1148.3 L337.7 1149.0 L335.9 1149.6 L333.9 1150.3 L332.1 1150.8 L330.6 1151.3 L329.5 1151.6 Z" fill="#F03C3C" stroke="none" fill-opacity="0.45"/>
<path d="M329.5 1136.6 C330.9 1136.2 334.7 1135.1 337.7 1134.0 C340.8 1132.9 344.3 1131.5 347.6 1130.0 C350.9 1128.6 354.2 1127.3 357.5 1125.1 C360.7 1122.9 364.0 1120.2 367.3 1116.9 C370.6 1113.6 374.2 1109.2 377.2 1105.4 C380.2 1101.6 382.9 1096.6 385.4 1093.9 C387.9 1091.1 389.5 1089.9 392.0 1089.0 C394.4 1088.0 397.2 1088.8 400.2 1088.0 C403.2 1087.2 406.7 1084.9 410.0 1084.0 C413.3 1083.2 416.6 1082.9 419.9 1083.0 C423.2 1083.2 426.7 1083.9 429.8 1084.7 C432.8 1085.5 435.2 1088.5 438.0 1088.0 C440.7 1087.4 443.2 1084.2 446.2 1081.4 C449.2 1078.6 452.8 1074.3 456.0 1070.9 C459.3 1067.5 462.6 1063.3 465.9 1061.0 C469.2 1058.7 471.9 1057.9 475.8 1057.1 C479.6 1056.3 485.1 1057.4 488.9 1056.1 C492.7 1054.8 495.5 1051.4 498.8 1049.5 C502.1 1047.6 505.3 1046.1 508.6 1044.6 C511.9 1043.1 515.2 1042.0 518.5 1040.7 C521.8 1039.3 525.1 1038.7 528.3 1036.4 C531.6 1034.0 535.2 1028.5 538.2 1026.5 C541.2 1024.5 543.7 1024.4 546.4 1024.2 C549.2 1024.1 551.6 1026.4 554.6 1025.5 C557.6 1024.7 561.2 1021.0 564.5 1019.0 C567.8 1016.9 571.1 1014.6 574.3 1013.4 C577.6 1012.2 580.9 1011.9 584.2 1011.7 C587.5 1011.6 590.8 1012.7 594.1 1012.4 C597.4 1012.1 601.4 1011.1 603.9 1010.1 C606.4 1009.0 605.9 1007.9 609.0 1006.0 C612.0 1004.2 618.4 999.7 622.4 999.2 C626.4 998.7 629.1 1001.6 632.9 1003.1 C636.6 1004.6 640.3 1007.5 644.8 1008.1 C649.3 1008.8 655.3 1006.0 659.7 1006.9 C664.2 1007.8 667.2 1011.2 671.7 1013.5 C676.2 1015.9 681.7 1019.1 686.6 1021.0 C691.6 1022.9 696.6 1024.4 701.6 1024.9 C706.5 1025.4 712.0 1024.9 716.5 1024.0 C721.0 1023.1 724.5 1022.2 728.5 1019.5 C732.4 1016.8 736.4 1011.5 740.4 1007.5 C744.4 1003.6 748.6 999.6 752.4 995.6 C756.1 991.6 759.8 986.7 762.8 983.6 C765.8 980.6 767.8 978.0 770.3 977.1 C772.8 976.2 774.8 976.9 777.7 978.3 C780.7 979.6 784.0 982.0 788.2 985.1 C792.4 988.3 798.2 992.9 803.1 997.1 C808.1 1001.3 813.1 1006.3 818.1 1010.5 C823.1 1014.8 828.5 1018.0 833.0 1022.5 C837.5 1027.0 841.0 1030.9 845.0 1037.4 C848.9 1043.9 852.9 1053.8 856.9 1061.3 C860.9 1068.8 864.4 1075.3 868.9 1082.2 C873.3 1089.2 878.8 1096.4 883.8 1103.1 C888.8 1109.9 893.8 1116.8 898.7 1122.6 C903.7 1128.3 908.7 1132.8 913.7 1137.5 C918.6 1142.2 924.2 1145.6 928.6 1150.9 C933.0 1156.3 936.6 1165.1 940.0 1169.7 C943.4 1174.3 946.0 1173.9 948.9 1178.6 C951.9 1183.3 954.9 1192.8 957.9 1198.0 C960.9 1203.2 963.3 1207.4 966.8 1209.9 C970.3 1212.4 974.8 1211.9 978.7 1212.9 C982.7 1213.9 987.2 1214.4 990.7 1215.9 C994.1 1217.4 996.1 1219.9 999.6 1221.8 C1003.1 1223.7 1007.5 1226.2 1011.5 1227.2 C1015.5 1228.2 1019.5 1228.2 1023.4 1227.8 C1027.4 1227.4 1031.4 1225.0 1035.4 1224.8 C1039.3 1224.6 1043.3 1225.5 1047.3 1226.3 C1051.2 1227.0 1055.2 1228.3 1059.2 1229.3 C1063.2 1230.3 1067.1 1231.3 1071.1 1232.3 C1075.1 1233.2 1079.5 1234.6 1083.0 1235.2 C1086.6 1235.8 1091.0 1235.7 1092.6 1235.8" fill="none" stroke="#FF0000" stroke-width="3.2" stroke-linejoin="round"/>
<path d="M347.0 1046.2h13M353.5 1039.7v13M366.7 1049.9h13M373.2 1043.4v13M374.6 1030.5h13M381.1 1024.0v13M379.9 1024.9h13M386.4 1018.4v13M394.3 1038.0h13M400.8 1031.5v13M409.5 1016.0h13M416.0 1009.5v13M424.9 994.6h13M431.4 988.1v13M440.7 987.7h13M447.2 981.2v13M453.5 1000.2h13M460.0 993.7v13M467.6 997.9h13M474.1 991.4v13M487.3 996.6h13M493.8 990.1v13M498.8 995.3h13M505.3 988.8v13M541.6 1016.0h13M548.1 1009.5v13M554.0 995.6h13M560.5 989.1v13M564.6 1013.7h13M571.1 1007.2v13M575.7 988.4h13M582.2 981.9v13M599.7 979.9h13M606.2 973.4v13M608.9 988.7h13M615.4 982.2v13M599.5 980.7h13M606.0 974.2v13M609.9 989.0h13M616.4 982.5v13M621.9 981.3h13M628.4 974.8v13M641.3 981.3h13M647.8 974.8v13M657.1 995.6h13M663.6 989.1v13M666.1 991.1h13M672.6 984.6v13M678.0 974.1h13M684.5 967.6v13M688.5 992.6h13M695.0 986.1v13M691.5 986.0h13M698.0 979.5v13M701.0 988.1h13M707.5 981.6v13M704.6 986.6h13M711.1 980.1v13M710.0 1003.7h13M716.5 997.2v13M716.0 1002.5h13M722.5 996.0v13M720.5 994.1h13M727.0 987.6v13M730.9 998.6h13M737.4 992.1v13M739.9 999.5h13M746.4 993.0v13M740.8 1018.3h13M747.3 1011.8v13M746.4 995.0h13M752.9 988.5v13M749.7 1004.6h13M756.2 998.1v13M757.2 991.1h13M763.7 984.6v13M760.8 994.1h13M767.3 987.6v13M763.8 986.6h13M770.3 980.1v13M769.8 965.7h13M776.3 959.2v13M773.6 991.1h13M780.1 984.6v13M778.1 977.1h13M784.6 970.6v13M778.7 947.8h13M785.2 941.3v13M787.7 946.9h13M794.2 940.4v13M785.6 961.8h13M792.1 955.3v13M796.6 1006.0h13M803.1 999.5v13M799.6 1012.0h13M806.1 1005.5v13M802.6 1015.0h13M809.1 1008.5v13M807.1 1024.0h13M813.6 1017.5v13M811.6 1031.4h13M818.1 1024.9v13M816.1 1034.4h13M822.6 1027.9v13M817.5 1029.9h13M824.0 1023.4v13M828.0 1034.4h13M834.5 1027.9v13M833.4 1051.5h13M839.9 1045.0v13M836.1 1064.3h13M842.6 1057.8v13M845.9 1067.3h13M852.4 1060.8v13M847.4 1068.8h13M853.9 1062.3v13M857.9 1091.2h13M864.4 1084.7v13M860.9 1097.2h13M867.4 1090.7v13M872.2 1106.7h13M878.7 1100.2v13M877.9 1123.5h13M884.4 1117.0v13M891.3 1127.0h13M897.8 1120.5v13M897.3 1136.9h13M903.8 1130.4v13M904.2 1146.5h13M910.7 1140.0v13M910.2 1145.0h13M916.7 1138.5v13M917.0 1156.3h13M923.5 1149.8v13M926.0 1153.3h13M932.5 1146.8v13M936.5 1181.0h13M943.0 1174.5v13M945.4 1183.1h13M951.9 1176.6v13M959.7 1212.3h13M966.2 1205.8v13M970.7 1208.4h13M977.2 1201.9v13M984.8 1221.8h13M991.3 1215.3v13M1016.9 1229.9h13M1023.4 1223.4v13M1030.9 1223.9h13M1037.4 1217.4v13M1043.8 1227.8h13M1050.3 1221.3v13M1059.5 1224.8h13M1066.0 1218.3v13M1059.2 1242.1h13M1065.7 1235.6v13M1074.4 1248.0h13M1080.9 1241.5v13M1089.3 1243.6h13M1095.8 1237.1v13" stroke="#0000EE" stroke-width="3.3" fill="none"/>
<line x1="171.2" y1="1378.3" x2="1096.5" y2="1378.3" stroke="#000" stroke-width="1.0" stroke-dasharray="15.2 15.7" stroke-dashoffset="4"/>
<path d="M235.7 1561.6 L291.6 1546.7 L334.3 1554.2 L355.8 1519.8 L368.4 1526.4 L402.1 1528.2 L434.7 1507.0 L470.8 1463.6 L501.9 1427.8 L543.4 1414.6 L556.8 1410.0 L570.8 1387.4 L577.9 1398.8 L586.0 1401.9 L602.0 1407.0 L618.5 1391.7 L636.0 1375.2 L653.8 1374.0 L670.6 1379.0 L688.6 1384.1 L706.1 1366.3 L723.9 1352.4 L740.9 1340.9 L749.3 1333.8 L758.2 1340.9 L775.2 1366.3 L789.7 1374.0 L804.4 1361.3 L817.9 1362.5 L830.3 1381.6 L835.9 1411.7 L849.7 1421.3 L869.3 1440.4 L882.9 1457.1 L888.0 1481.0 L902.1 1512.1 L913.5 1540.8 L924.8 1569.4 L936.2 1602.9 L943.4 1645.9 L947.5 1662.7 L958.9 1662.7 L970.2 1662.7 L981.6 1657.9 L993.6 1651.9 L1012.7 1656.7 L1031.4 1667.4" fill="none" stroke="#3030F0" stroke-opacity="0.55" stroke-width="4.4" stroke-linejoin="round" stroke-linecap="round"/>
<path d="M316.4 1507.9 L342.7 1512.3 L342.7 1495.9 L369.6 1496.5 L396.1 1488.1 L423.0 1492.0 L449.3 1459.2 L468.1 1424.8 L488.4 1405.4 L507.6 1434.7 L517.1 1433.8 L536.5 1434.9 L546.2 1404.4 L556.3 1410.8 L565.7 1409.5 L576.4 1401.9 L586.0 1398.1 L595.4 1394.3 L605.1 1399.3 L615.2 1393.0 L624.9 1381.6 L634.8 1386.7 L644.4 1377.8 L653.8 1386.7 L664.0 1399.3 L673.6 1413.3 L713.5 1370.1 L753.1 1340.9 L758.7 1327.0 L764.3 1353.6 L774.4 1367.6 L779.5 1379.0 L800.1 1362.5 L819.1 1366.3 L827.3 1379.0 L835.4 1402.1 L851.4 1420.1 L866.9 1427.2 L882.9 1452.3 L898.5 1436.8 L914.7 1488.2" fill="none" stroke="#FF3030" stroke-opacity="0.6" stroke-width="4.4" stroke-linejoin="round" stroke-linecap="round"/>
<path d="M779.5 1384.1 L799.3 1415.9 L819.1 1312.5 L827.3 1378.5 L835.6 1399.3" fill="none" stroke="#333" stroke-opacity="0.75" stroke-width="3.6" stroke-linejoin="round"/>
<path d="M779.5 1374.1V1394.1M776.5 1374.1h6M776.5 1394.1h6M799.3 1405.9V1425.9M796.3 1405.9h6M796.3 1425.9h6M819.1 1302.5V1322.5M816.1 1302.5h6M816.1 1322.5h6M827.3 1347.5V1409.5M824.3 1347.5h6M824.3 1409.5h6M835.6 1377.3V1421.3M832.6 1377.3h6M832.6 1421.3h6" fill="none" stroke="#333" stroke-width="0.85"/>
<g fill="#444" fill-opacity="0.82"><rect x="773.5" y="1378.1" width="12" height="12"/><rect x="793.3" y="1409.9" width="12" height="12"/><rect x="813.1" y="1306.5" width="12" height="12"/><rect x="821.3" y="1372.5" width="12" height="12"/><rect x="829.6" y="1393.3" width="12" height="12"/></g>
<path d="M181.1 1572.4 L236.6 1526.1 L291.6 1588.2 L334.3 1526.1 L355.8 1549.1 L368.4 1485.8 L402.1 1546.4 L434.7 1554.2 L470.8 1419.7 L501.9 1421.2 L543.4 1443.8 L556.8 1379.0 L570.8 1408.2 L577.9 1372.2 L586.0 1421.4 L602.0 1411.5 L618.5 1393.5 L636.0 1376.0 L653.8 1352.4 L670.6 1391.7 L688.6 1395.5 L706.1 1364.6 L723.9 1346.5 L740.9 1352.4 L749.3 1318.1 L758.2 1332.6 L775.2 1379.8 L789.7 1391.0 L804.4 1352.4 L817.9 1334.6 L830.4 1402.1 L835.9 1426.0 L840.6 1388.5 L849.7 1433.2 L859.8 1433.2 L869.3 1441.6 L882.9 1458.3 L888.0 1475.0 L902.1 1516.9 L913.5 1535.3 L924.8 1574.2 L936.2 1590.2 L941.5 1667.4 L947.5 1652.6 L958.9 1668.6 L970.2 1664.3 L981.6 1657.2 L993.6 1646.6 L1012.7 1656.0 L1031.4 1667.0 L1050.2 1677.7" fill="none" stroke="#2020FF" stroke-opacity="0.75" stroke-width="1.6" stroke-linejoin="round"/>
<path d="M237.2 1511.7 L316.4 1518.3 L342.7 1493.5 L342.7 1527.6 L369.6 1468.7 L396.1 1495.0 L423.0 1501.6 L449.3 1480.1 L468.1 1400.0 L488.4 1403.9 L488.4 1415.8 L507.6 1403.0 L517.1 1488.1 L536.5 1410.0 L546.2 1408.2 L556.3 1394.8 L565.7 1424.7 L576.4 1407.0 L586.0 1372.7 L595.4 1413.8 L605.1 1396.0 L615.2 1374.5 L624.9 1415.1 L634.8 1358.2 L644.4 1390.5 L653.8 1375.2 L664.0 1398.8 L673.6 1419.2 L673.6 1426.8 L713.5 1398.1 L753.1 1288.4 L758.7 1338.4 L764.3 1355.4 L774.4 1363.3 L779.5 1390.5 L800.1 1384.1 L819.1 1318.1 L827.5 1393.8 L835.4 1404.5 L851.4 1384.2 L866.9 1472.6 L882.9 1423.7 L898.5 1464.3 L914.7 1421.7 L930.3 1577.1" fill="none" stroke="#FF2020" stroke-opacity="0.8" stroke-width="1.5" stroke-linejoin="round"/>
<g fill="#0000FF"><circle cx="181.1" cy="1572.4" r="3.3"/><circle cx="236.6" cy="1526.1" r="3.3"/><circle cx="291.6" cy="1588.2" r="3.3"/><circle cx="334.3" cy="1526.1" r="3.3"/><circle cx="355.8" cy="1549.1" r="3.3"/><circle cx="368.4" cy="1485.8" r="3.3"/><circle cx="402.1" cy="1546.4" r="3.3"/><circle cx="434.7" cy="1554.2" r="3.3"/><circle cx="470.8" cy="1419.7" r="3.3"/><circle cx="501.9" cy="1421.2" r="3.3"/><circle cx="543.4" cy="1443.8" r="3.3"/><circle cx="556.8" cy="1379.0" r="3.3"/><circle cx="570.8" cy="1408.2" r="3.3"/><circle cx="577.9" cy="1372.2" r="3.3"/><circle cx="586.0" cy="1421.4" r="3.3"/><circle cx="602.0" cy="1411.5" r="3.3"/><circle cx="618.5" cy="1393.5" r="3.3"/><circle cx="636.0" cy="1376.0" r="3.3"/><circle cx="653.8" cy="1352.4" r="3.3"/><circle cx="670.6" cy="1391.7" r="3.3"/><circle cx="688.6" cy="1395.5" r="3.3"/><circle cx="706.1" cy="1364.6" r="3.3"/><circle cx="723.9" cy="1346.5" r="3.3"/><circle cx="740.9" cy="1352.4" r="3.3"/><circle cx="749.3" cy="1318.1" r="3.3"/><circle cx="758.2" cy="1332.6" r="3.3"/><circle cx="775.2" cy="1379.8" r="3.3"/><circle cx="789.7" cy="1391.0" r="3.3"/><circle cx="804.4" cy="1352.4" r="3.3"/><circle cx="817.9" cy="1334.6" r="3.3"/><circle cx="830.4" cy="1402.1" r="3.3"/><circle cx="835.9" cy="1426.0" r="3.3"/><circle cx="840.6" cy="1388.5" r="3.3"/><circle cx="849.7" cy="1433.2" r="3.3"/><circle cx="859.8" cy="1433.2" r="3.3"/><circle cx="869.3" cy="1441.6" r="3.3"/><circle cx="882.9" cy="1458.3" r="3.3"/><circle cx="888.0" cy="1475.0" r="3.3"/><circle cx="902.1" cy="1516.9" r="3.3"/><circle cx="913.5" cy="1535.3" r="3.3"/><circle cx="924.8" cy="1574.2" r="3.3"/><circle cx="936.2" cy="1590.2" r="3.3"/><circle cx="941.5" cy="1667.4" r="3.3"/><circle cx="947.5" cy="1652.6" r="3.3"/><circle cx="958.9" cy="1668.6" r="3.3"/><circle cx="970.2" cy="1664.3" r="3.3"/><circle cx="981.6" cy="1657.2" r="3.3"/><circle cx="993.6" cy="1646.6" r="3.3"/><circle cx="1012.7" cy="1656.0" r="3.3"/><circle cx="1031.4" cy="1667.0" r="3.3"/><circle cx="1050.2" cy="1677.7" r="3.3"/></g>
<path d="M230.7 1511.7h13M237.2 1505.2v13M309.9 1518.3h13M316.4 1511.8v13M336.2 1493.5h13M342.7 1487.0v13M336.2 1527.6h13M342.7 1521.1v13M363.1 1468.7h13M369.6 1462.2v13M389.6 1495.0h13M396.1 1488.5v13M416.5 1501.6h13M423.0 1495.1v13M442.8 1480.1h13M449.3 1473.6v13M461.6 1400.0h13M468.1 1393.5v13M481.9 1403.9h13M488.4 1397.4v13M481.9 1415.8h13M488.4 1409.3v13M501.1 1403.0h13M507.6 1396.5v13M510.6 1488.1h13M517.1 1481.6v13M530.0 1410.0h13M536.5 1403.5v13M539.7 1408.2h13M546.2 1401.7v13M549.8 1394.8h13M556.3 1388.3v13M559.2 1424.7h13M565.7 1418.2v13M569.9 1407.0h13M576.4 1400.5v13M579.5 1372.7h13M586.0 1366.2v13M588.9 1413.8h13M595.4 1407.3v13M598.6 1396.0h13M605.1 1389.5v13M608.7 1374.5h13M615.2 1368.0v13M618.4 1415.1h13M624.9 1408.6v13M628.3 1358.2h13M634.8 1351.7v13M637.9 1390.5h13M644.4 1384.0v13M647.3 1375.2h13M653.8 1368.7v13M657.5 1398.8h13M664.0 1392.3v13M667.1 1419.2h13M673.6 1412.7v13M667.1 1426.8h13M673.6 1420.3v13M707.0 1398.1h13M713.5 1391.6v13M746.6 1288.4h13M753.1 1281.9v13M752.2 1338.4h13M758.7 1331.9v13M757.8 1355.4h13M764.3 1348.9v13M767.9 1363.3h13M774.4 1356.8v13M773.0 1390.5h13M779.5 1384.0v13M793.6 1384.1h13M800.1 1377.6v13M812.6 1318.1h13M819.1 1311.6v13M821.0 1393.8h13M827.5 1387.3v13M828.9 1404.5h13M835.4 1398.0v13M844.9 1384.2h13M851.4 1377.7v13M860.4 1472.6h13M866.9 1466.1v13M876.4 1423.7h13M882.9 1417.2v13M892.0 1464.3h13M898.5 1457.8v13M908.2 1421.7h13M914.7 1415.2v13M923.8 1577.1h13M930.3 1570.6v13" stroke="#FF1a1a" stroke-width="1.5" fill="none"/>
<path d="M994.3 1539.1H1052.4M1023.4 1515.5V1564.5" stroke="#0000FF" stroke-width="2.5" stroke-linecap="round" fill="none"/>
<path d="M436.1 1860.5 L436.1 1860.5 C437.5 1856.0 440.2 1841.6 444.2 1833.6 C448.2 1825.5 455.4 1816.8 460.3 1812.1 C465.3 1807.4 467.9 1807.1 473.8 1805.3 C479.6 1803.6 488.1 1802.0 495.3 1801.3 C502.5 1800.6 511.4 1803.1 516.8 1801.3 C522.2 1799.5 524.4 1795.9 527.5 1790.6 C530.7 1785.2 532.0 1774.9 535.6 1769.1 C539.2 1763.2 545.0 1759.2 549.1 1755.6 C553.1 1752.0 554.4 1748.9 559.8 1747.5 C565.2 1746.2 574.1 1745.8 581.3 1747.5 C588.5 1749.3 596.6 1759.6 602.8 1758.3 C609.1 1757.0 613.6 1746.2 619.0 1739.5 C624.3 1732.8 629.7 1723.3 635.1 1718.0 C640.5 1712.6 646.3 1708.1 651.2 1707.2 C656.1 1706.3 660.2 1708.8 664.7 1712.6 C669.1 1716.4 673.2 1729.2 678.1 1730.1 C683.0 1731.0 688.9 1723.6 694.2 1718.0 C699.6 1712.4 705.4 1704.1 710.4 1696.5 C715.3 1688.8 719.3 1678.5 723.8 1672.3 C728.3 1666.0 734.6 1661.7 737.3 1658.8 C740.0 1655.9 737.8 1655.9 740.0 1654.8 C742.2 1653.7 746.7 1651.0 750.8 1652.1 C754.8 1653.2 760.2 1656.4 764.2 1661.5 C768.2 1666.7 770.9 1677.9 775.0 1683.0 C779.0 1688.2 783.5 1691.8 788.4 1692.4 C793.3 1693.1 799.6 1686.8 804.5 1687.1 C809.5 1687.3 813.9 1690.4 818.0 1693.8 C822.0 1697.1 825.6 1700.5 828.7 1707.2 C831.9 1713.9 833.7 1723.3 836.8 1734.1 C839.9 1744.9 843.5 1761.0 847.5 1771.7 C851.6 1782.5 856.5 1790.6 861.0 1798.6 C865.5 1806.7 869.5 1812.5 874.4 1820.1 C879.4 1827.8 885.2 1835.4 890.6 1844.3 C895.9 1853.3 902.2 1864.9 906.7 1873.9 C911.2 1882.9 914.5 1890.0 917.4 1898.1 C920.4 1906.2 923.0 1918.3 924.2 1922.3 L925.0 2008.7 L852.9 2010.0 L852.9 2010.0 C851.6 2003.0 847.5 1979.5 844.9 1968.0 C842.2 1956.5 839.5 1948.7 836.8 1941.1 C834.1 1933.5 832.3 1929.5 828.7 1922.3 C825.1 1915.1 820.2 1906.2 815.3 1898.1 C810.4 1890.0 804.5 1881.1 799.1 1873.9 C793.8 1866.7 788.4 1860.5 783.0 1855.1 C777.6 1849.7 771.8 1847.0 766.9 1841.6 C762.0 1836.3 757.9 1830.4 753.4 1822.8 C749.0 1815.2 744.0 1799.5 739.9 1795.9 C735.9 1792.4 733.2 1795.9 729.2 1801.3 C725.2 1806.7 720.2 1819.2 715.7 1828.2 C711.3 1837.2 706.8 1848.6 702.3 1855.1 C697.8 1861.6 692.9 1865.4 688.9 1867.2 C684.8 1869.0 682.6 1867.4 678.1 1865.8 C673.6 1864.3 666.9 1861.1 662.0 1857.8 C657.0 1854.4 653.9 1843.4 648.5 1845.7 C643.2 1847.9 635.5 1863.4 629.7 1871.2 C623.9 1879.1 619.0 1887.4 613.6 1892.7 C608.2 1898.1 602.8 1902.1 597.4 1903.5 C592.1 1904.8 585.8 1901.7 581.3 1900.8 C576.8 1899.9 574.1 1896.8 570.6 1898.1 C567.0 1899.5 563.4 1903.9 559.8 1908.9 C556.2 1913.8 553.1 1923.2 549.1 1927.7 C545.0 1932.2 539.2 1934.0 535.6 1935.7 C532.0 1937.5 531.6 1939.3 527.5 1938.4 C523.5 1937.5 516.3 1931.3 511.4 1930.4 C506.5 1929.5 501.6 1927.7 498.0 1933.1 C494.4 1938.4 492.0 1949.8 489.9 1962.6 C487.8 1975.4 486.1 2002.1 485.3 2010.0 L462.5 2008.7 L462.5 1860.5 Z" fill="#CDCDCD" fill-opacity="0.5"/>
<path d="M459.0 1855.1 C461.4 1852.4 468.6 1842.5 473.8 1839.0 C478.9 1835.4 483.6 1834.0 489.9 1833.6 C496.2 1833.1 505.1 1836.0 511.4 1836.3 C517.7 1836.5 523.5 1838.5 527.5 1834.9 C531.6 1831.3 532.5 1821.7 535.6 1814.8 C538.7 1807.8 542.3 1798.2 546.4 1793.3 C550.4 1788.3 555.3 1786.8 559.8 1785.2 C564.3 1783.6 568.8 1782.9 573.3 1783.8 C577.7 1784.7 581.8 1788.1 586.7 1790.6 C591.6 1793.0 598.3 1799.1 602.8 1798.6 C607.3 1798.2 609.5 1794.1 613.6 1787.9 C617.6 1781.6 622.5 1768.2 627.0 1761.0 C631.5 1753.8 636.4 1748.2 640.5 1744.9 C644.5 1741.5 647.6 1739.9 651.2 1740.8 C654.8 1741.7 657.5 1746.0 662.0 1750.2 C666.5 1754.5 673.6 1764.1 678.1 1766.4 C682.6 1768.6 684.8 1766.8 688.9 1763.7 C692.9 1760.5 697.8 1753.8 702.3 1747.5 C706.8 1741.3 711.3 1732.8 715.7 1726.0 C720.2 1719.3 725.2 1712.8 729.2 1707.2 C733.2 1701.6 738.1 1694.9 739.9 1692.4 C741.7 1690.0 738.2 1693.1 740.0 1692.4 C741.8 1691.8 747.2 1687.5 750.8 1688.4 C754.3 1689.3 757.9 1692.0 761.5 1697.8 C765.1 1703.6 768.7 1717.1 772.3 1723.3 C775.8 1729.6 779.4 1734.1 783.0 1735.4 C786.6 1736.8 790.2 1733.2 793.8 1731.4 C797.4 1729.6 800.9 1724.7 804.5 1724.7 C808.1 1724.7 812.1 1726.7 815.3 1731.4 C818.4 1736.1 820.7 1744.9 823.3 1752.9 C826.0 1761.0 828.3 1770.8 831.4 1779.8 C834.5 1788.8 837.7 1797.7 842.2 1806.7 C846.6 1815.7 852.9 1823.7 858.3 1833.6 C863.7 1843.4 869.1 1855.1 874.4 1865.8 C879.8 1876.6 886.1 1889.1 890.6 1898.1 C895.0 1907.1 898.6 1912.4 901.3 1919.6 C904.0 1926.8 904.9 1933.1 906.7 1941.1 C908.5 1949.2 910.4 1956.5 912.1 1968.0 C913.8 1979.5 916.1 2003.0 916.9 2010.0 L873.1 2010.0 L873.1 2010.0 C872.0 2001.2 868.8 1969.6 866.4 1957.3 C863.9 1944.9 861.4 1943.4 858.3 1935.7 C855.2 1928.1 851.6 1919.2 847.5 1911.5 C843.5 1903.9 838.6 1896.8 834.1 1890.0 C829.6 1883.3 824.7 1878.8 820.7 1871.2 C816.6 1863.6 813.5 1852.4 809.9 1844.3 C806.3 1836.3 802.7 1826.9 799.1 1822.8 C795.6 1818.8 792.4 1821.5 788.4 1820.1 C784.4 1818.8 779.0 1818.8 775.0 1814.8 C770.9 1810.7 767.8 1804.0 764.2 1795.9 C760.6 1787.9 757.5 1772.0 753.4 1766.4 C749.4 1760.8 744.0 1761.0 739.9 1762.3 C735.9 1763.7 733.2 1768.8 729.2 1774.4 C725.2 1780.0 720.2 1788.3 715.7 1795.9 C711.3 1803.6 706.8 1813.9 702.3 1820.1 C697.8 1826.4 693.3 1831.6 688.9 1833.6 C684.4 1835.6 679.9 1834.9 675.4 1832.2 C670.9 1829.5 665.6 1821.7 662.0 1817.4 C658.4 1813.2 656.6 1807.6 653.9 1806.7 C651.2 1805.8 649.4 1808.5 645.8 1812.1 C642.3 1815.7 636.9 1821.5 632.4 1828.2 C627.9 1834.9 623.0 1846.1 619.0 1852.4 C614.9 1858.7 611.8 1863.2 608.2 1865.8 C604.6 1868.5 601.0 1869.4 597.4 1868.5 C593.9 1867.6 590.3 1863.2 586.7 1860.5 C583.1 1857.8 579.5 1853.3 575.9 1852.4 C572.4 1851.5 568.8 1853.3 565.2 1855.1 C561.6 1856.9 557.6 1857.3 554.4 1863.2 C551.3 1869.0 549.5 1883.3 546.4 1890.0 C543.2 1896.8 538.7 1901.0 535.6 1903.5 C532.5 1905.9 531.6 1906.2 527.5 1904.8 C523.5 1903.5 516.3 1897.4 511.4 1895.4 C506.5 1893.4 502.5 1891.4 498.0 1892.7 C493.5 1894.1 488.1 1897.2 484.5 1903.5 C480.9 1909.8 478.9 1920.5 476.5 1930.4 C474.0 1940.2 471.4 1949.4 469.7 1962.6 C468.0 1975.9 466.8 2002.1 466.2 2010.0 L462.5 2008.7 L462.5 1855.1 Z" fill="#9a9a9a" fill-opacity="0.55"/>
<path d="M462.5 1853.3 L464.5 1852.7 L467.3 1851.9 L470.5 1851.0 L473.8 1850.3 L477.0 1850.0 L480.4 1849.9 L483.8 1849.8 L487.2 1849.8 L490.7 1849.7 L494.3 1849.6 L497.7 1849.6 L500.7 1849.8 L503.1 1850.2 L505.2 1850.9 L507.0 1851.6 L508.7 1852.5 L510.2 1853.6 L511.4 1854.8 L512.6 1856.0 L514.1 1857.1 L515.9 1857.9 L518.0 1858.5 L520.1 1859.1 L522.2 1859.8 L524.2 1860.7 L526.4 1861.7 L528.4 1862.6 L530.2 1863.3 L531.8 1863.7 L533.1 1863.9 L534.3 1863.8 L535.6 1863.3 L537.0 1862.5 L538.3 1861.4 L539.6 1859.6 L541.0 1856.5 L542.3 1851.6 L543.7 1845.3 L545.0 1838.5 L546.4 1832.3 L547.7 1826.6 L549.1 1821.0 L550.4 1815.9 L551.7 1812.2 L553.0 1810.2 L554.3 1809.5 L555.6 1809.3 L557.1 1808.7 L558.9 1807.3 L561.0 1805.7 L563.1 1804.2 L565.2 1803.3 L567.2 1803.0 L569.2 1803.2 L571.2 1803.9 L573.3 1804.9 L575.3 1806.5 L577.3 1808.6 L579.3 1811.0 L581.3 1813.5 L583.2 1816.3 L585.0 1819.4 L587.0 1822.3 L589.4 1824.3 L592.5 1825.2 L596.1 1825.4 L599.7 1825.0 L602.8 1824.3 L605.2 1823.2 L607.2 1821.8 L609.0 1820.0 L610.9 1817.5 L612.9 1814.4 L614.9 1810.7 L616.9 1806.6 L619.0 1802.8 L621.0 1799.0 L623.0 1795.1 L625.0 1791.4 L627.0 1788.0 L629.0 1785.0 L631.1 1782.4 L633.1 1779.9 L635.1 1777.2 L637.1 1774.1 L639.1 1770.8 L641.1 1767.7 L643.2 1765.1 L645.2 1763.1 L647.4 1761.6 L649.4 1760.5 L651.2 1759.7 L652.7 1759.3 L653.9 1759.2 L655.1 1759.7 L656.6 1761.1 L658.4 1763.6 L660.5 1767.1 L662.6 1771.0 L664.7 1774.5 L666.6 1777.8 L668.6 1781.1 L670.6 1784.1 L672.7 1786.6 L675.0 1788.6 L677.5 1790.1 L679.9 1791.1 L682.1 1791.5 L684.0 1791.1 L685.6 1790.1 L687.1 1788.6 L688.9 1786.6 L690.8 1784.2 L692.8 1781.4 L694.9 1778.1 L696.9 1774.5 L698.9 1770.4 L701.0 1765.9 L703.0 1761.3 L705.0 1757.1 L707.0 1753.3 L709.0 1749.7 L711.0 1746.5 L713.1 1743.6 L715.1 1741.2 L717.1 1739.3 L719.1 1737.5 L721.1 1735.5 L723.1 1733.2 L725.2 1730.7 L727.2 1728.2 L729.2 1726.1 L731.3 1724.5 L733.6 1723.1 L735.6 1721.9 L737.3 1720.8 L738.2 1719.7 L738.6 1718.9 L739.1 1718.0 L740.0 1716.7 L741.7 1714.9 L743.8 1712.6 L746.0 1710.4 L748.1 1708.7 L749.9 1707.6 L751.7 1706.9 L753.4 1706.4 L754.8 1706.0 L755.9 1705.3 L756.8 1704.5 L757.5 1704.2 L758.3 1704.6 L759.0 1705.8 L759.7 1707.6 L760.3 1710.2 L761.0 1714.0 L761.6 1719.7 L762.3 1726.9 L762.9 1734.4 L763.7 1740.9 L764.4 1746.5 L765.1 1751.7 L765.9 1756.2 L766.9 1759.7 L768.0 1762.0 L769.3 1763.2 L770.7 1764.0 L772.3 1765.1 L774.1 1766.8 L776.2 1768.6 L778.3 1770.4 L780.3 1771.8 L782.1 1773.0 L783.9 1773.9 L785.5 1774.4 L787.1 1774.5 L788.5 1774.2 L789.8 1773.5 L791.1 1772.3 L792.4 1770.5 L793.7 1767.7 L795.0 1764.0 L796.4 1760.3 L797.8 1757.1 L799.5 1754.6 L801.2 1752.4 L803.0 1750.6 L804.5 1749.0 L805.7 1747.3 L806.7 1745.7 L807.7 1744.7 L808.6 1745.0 L809.5 1746.6 L810.4 1749.4 L811.2 1753.0 L812.1 1757.1 L812.9 1761.6 L813.7 1766.9 L814.5 1772.6 L815.3 1778.6 L816.0 1785.1 L816.7 1792.2 L817.3 1799.2 L818.0 1805.4 L818.6 1811.1 L819.1 1816.4 L819.8 1820.9 L820.7 1824.3 L821.8 1825.9 L823.0 1826.3 L824.4 1826.3 L826.0 1827.0 L827.8 1828.5 L829.7 1830.3 L831.8 1832.5 L834.1 1835.0 L836.6 1838.1 L839.3 1841.6 L842.1 1845.2 L844.9 1848.5 L847.7 1851.3 L850.6 1854.0 L853.3 1856.6 L855.6 1859.2 L857.3 1861.9 L858.6 1864.6 L859.8 1867.3 L861.0 1870.0 L862.1 1872.5 L863.2 1875.0 L864.5 1877.7 L866.4 1880.7 L869.3 1884.4 L872.9 1888.5 L876.6 1892.7 L879.8 1896.9 L882.3 1901.0 L884.3 1905.3 L886.2 1909.3 L887.9 1913.0 L889.5 1915.6 L894.6 1919.6 L900.2 1931.7 L901.6 1949.2 L901.6 2008.7 L894.6 2008.7 L894.3 1966.7 L891.1 1953.2 L886.2 1933.3 L884.3 1929.3 L882.3 1925.0 L879.8 1920.9 L876.6 1916.7 L872.9 1912.5 L869.3 1908.4 L866.4 1904.7 L864.5 1901.7 L863.2 1899.0 L862.1 1896.5 L861.0 1894.0 L859.8 1891.3 L858.6 1888.6 L857.3 1885.9 L855.6 1883.2 L853.3 1880.6 L850.6 1878.0 L847.7 1875.3 L844.9 1872.5 L842.1 1869.2 L839.3 1865.6 L836.6 1862.1 L834.1 1859.0 L831.8 1856.5 L829.7 1854.3 L827.8 1852.5 L826.0 1851.0 L824.4 1850.3 L823.0 1850.3 L821.8 1849.9 L820.7 1848.3 L819.8 1844.9 L819.1 1840.4 L818.6 1835.1 L818.0 1829.4 L817.3 1823.2 L816.7 1816.2 L816.0 1809.1 L815.3 1802.6 L814.5 1796.6 L813.7 1790.9 L812.9 1785.6 L812.1 1781.1 L811.2 1777.0 L810.4 1773.4 L809.5 1770.6 L808.6 1769.0 L807.7 1768.7 L806.7 1769.7 L805.7 1771.3 L804.5 1773.0 L803.0 1774.6 L801.2 1776.4 L799.5 1778.6 L797.8 1781.1 L796.4 1784.3 L795.0 1788.0 L793.7 1791.7 L792.4 1794.5 L791.1 1796.3 L789.8 1797.5 L788.5 1798.2 L787.1 1798.5 L785.5 1798.4 L783.9 1797.9 L782.1 1797.0 L780.3 1795.8 L778.3 1794.4 L776.2 1792.6 L774.1 1790.8 L772.3 1789.1 L770.7 1788.0 L769.3 1787.2 L768.0 1786.0 L766.9 1783.7 L765.9 1780.2 L765.1 1775.7 L764.4 1770.5 L763.7 1764.9 L762.9 1758.4 L762.3 1750.9 L761.6 1743.7 L761.0 1738.0 L760.3 1734.2 L759.7 1731.6 L759.0 1729.8 L758.3 1728.6 L757.5 1728.2 L756.8 1728.5 L755.9 1729.3 L754.8 1730.0 L753.4 1730.4 L751.7 1730.9 L749.9 1731.6 L748.1 1732.7 L746.0 1734.4 L743.8 1736.6 L741.7 1738.9 L740.0 1740.7 L739.1 1742.0 L738.6 1742.9 L738.2 1743.7 L737.3 1744.8 L735.6 1745.9 L733.6 1747.1 L731.3 1748.5 L729.2 1750.1 L727.2 1752.2 L725.2 1754.7 L723.1 1757.2 L721.1 1759.5 L719.1 1761.5 L717.1 1763.3 L715.1 1765.2 L713.1 1767.6 L711.0 1770.5 L709.0 1773.7 L707.0 1777.3 L705.0 1781.1 L703.0 1785.3 L701.0 1789.9 L698.9 1794.4 L696.9 1798.5 L694.9 1802.1 L692.8 1805.4 L690.8 1808.2 L688.9 1810.6 L687.1 1812.6 L685.6 1814.1 L684.0 1815.1 L682.1 1815.5 L679.9 1815.1 L677.5 1814.1 L675.0 1812.6 L672.7 1810.6 L670.6 1808.1 L668.6 1805.1 L666.6 1801.8 L664.7 1798.5 L662.6 1795.0 L660.5 1791.1 L658.4 1787.6 L656.6 1785.1 L655.1 1783.7 L653.9 1783.2 L652.7 1783.3 L651.2 1783.7 L649.4 1784.5 L647.4 1785.6 L645.2 1787.1 L643.2 1789.1 L641.1 1791.7 L639.1 1794.8 L637.1 1798.1 L635.1 1801.2 L633.1 1803.9 L631.1 1806.4 L629.0 1809.0 L627.0 1812.0 L625.0 1815.4 L623.0 1819.1 L621.0 1823.0 L619.0 1826.8 L616.9 1830.6 L614.9 1834.7 L612.9 1838.4 L610.9 1841.5 L609.0 1844.0 L607.2 1845.8 L605.2 1847.2 L602.8 1848.3 L599.7 1849.0 L596.1 1849.4 L592.5 1849.2 L589.4 1848.3 L587.0 1846.3 L585.0 1843.4 L583.2 1840.3 L581.3 1837.5 L579.3 1835.0 L577.3 1832.6 L575.3 1830.5 L573.3 1828.9 L571.2 1827.9 L569.2 1827.2 L567.2 1827.0 L565.2 1827.3 L563.1 1828.2 L561.0 1829.7 L558.9 1831.3 L557.1 1832.7 L555.6 1833.3 L554.3 1833.5 L553.0 1834.2 L551.7 1836.2 L550.4 1839.9 L549.1 1845.0 L547.7 1850.6 L546.4 1856.3 L545.0 1862.5 L543.7 1869.3 L542.3 1875.6 L541.0 1880.5 L539.6 1883.6 L538.3 1885.4 L537.0 1886.5 L535.6 1887.3 L534.3 1887.8 L533.1 1887.9 L531.8 1887.7 L530.2 1887.3 L528.4 1886.6 L526.4 1885.7 L524.2 1884.7 L522.2 1883.8 L520.1 1883.1 L518.0 1882.5 L515.9 1881.9 L514.1 1881.1 L512.6 1880.0 L511.4 1878.8 L510.2 1877.6 L508.7 1876.5 L507.0 1875.6 L505.2 1874.9 L503.1 1874.2 L500.7 1873.8 L497.7 1873.6 L494.3 1873.6 L490.7 1873.7 L487.2 1873.8 L483.8 1873.8 L480.4 1873.9 L477.0 1874.0 L473.8 1874.3 L470.5 1875.0 L467.3 1875.9 L464.5 1876.7 L462.5 1877.3 Z" fill="#5a5a5a" stroke="none" fill-opacity="0.6"/>
<line x1="232.3" y1="1787.6" x2="1166" y2="1787.6" stroke="#444" stroke-width="1.7" stroke-dasharray="15.2 15.68"/>
<path d="M462.5 1927.7 C463.0 1922.8 464.0 1906.4 465.7 1898.1 C467.4 1889.8 469.3 1883.1 472.4 1877.9 C475.6 1872.8 479.8 1869.6 484.5 1867.2 C489.2 1864.8 497.5 1863.9 500.7 1863.4 C503.8 1862.9 502.7 1864.0 503.7 1864.3 C504.7 1864.6 505.7 1865.0 506.7 1865.3 C507.7 1865.7 508.7 1866.1 509.7 1866.5 C510.7 1866.9 511.7 1867.3 512.7 1867.8 C513.7 1868.2 514.7 1868.7 515.7 1869.2 C516.7 1869.7 517.7 1870.2 518.7 1870.7 C519.7 1871.2 520.7 1871.7 521.7 1872.1 C522.7 1872.5 523.7 1872.9 524.7 1873.2 C525.7 1873.5 526.7 1873.7 527.7 1873.7 C528.7 1873.7 529.7 1873.6 530.7 1873.2 C531.7 1872.7 532.7 1872.0 533.7 1870.9 C534.7 1869.9 535.7 1868.6 536.7 1867.0 C537.7 1865.4 538.7 1863.4 539.7 1861.5 C540.7 1859.5 541.7 1857.3 542.7 1855.1 C543.7 1853.0 544.7 1850.8 545.7 1848.6 C546.7 1846.3 547.7 1844.0 548.7 1841.7 C549.7 1839.5 550.7 1837.1 551.7 1834.9 C552.7 1832.7 553.7 1830.3 554.7 1828.4 C555.7 1826.5 556.7 1824.8 557.7 1823.4 C558.7 1822.0 559.7 1820.9 560.7 1820.1 C561.7 1819.3 562.7 1818.9 563.7 1818.6 C564.7 1818.3 565.7 1818.3 566.7 1818.4 C567.7 1818.4 568.7 1818.5 569.7 1818.8 C570.7 1819.1 571.7 1819.4 572.7 1820.0 C573.7 1820.5 574.7 1821.2 575.7 1821.9 C576.7 1822.7 577.7 1823.6 578.7 1824.4 C579.7 1825.3 580.7 1826.2 581.7 1827.1 C582.7 1827.9 583.7 1828.8 584.7 1829.6 C585.7 1830.5 586.7 1831.3 587.7 1832.0 C588.7 1832.8 589.7 1833.4 590.7 1834.0 C591.7 1834.6 592.7 1835.1 593.7 1835.4 C594.7 1835.8 595.7 1836.1 596.7 1836.1 C597.7 1836.2 598.7 1836.1 599.7 1835.8 C600.7 1835.6 601.7 1835.1 602.7 1834.6 C603.7 1834.0 604.7 1833.3 605.7 1832.4 C606.7 1831.6 607.7 1830.6 608.7 1829.6 C609.7 1828.5 610.7 1827.3 611.7 1826.0 C612.7 1824.8 613.7 1823.4 614.7 1821.9 C615.7 1820.4 616.7 1818.9 617.7 1817.3 C618.7 1815.7 619.7 1814.1 620.7 1812.4 C621.7 1810.8 622.7 1809.1 623.7 1807.5 C624.7 1805.8 625.7 1804.1 626.7 1802.5 C627.7 1800.9 628.7 1799.2 629.7 1797.6 C630.7 1796.0 631.7 1794.5 632.7 1793.0 C633.7 1791.5 634.7 1790.1 635.7 1788.7 C636.7 1787.4 637.7 1786.1 638.7 1784.9 C639.7 1783.7 640.7 1782.6 641.7 1781.6 C642.7 1780.6 643.7 1779.6 644.7 1778.9 C645.7 1778.1 646.7 1777.5 647.7 1777.1 C648.7 1776.7 649.7 1776.4 650.7 1776.4 C651.7 1776.4 652.7 1776.6 653.7 1777.0 C654.7 1777.3 655.7 1777.9 656.7 1778.6 C657.7 1779.3 658.7 1780.2 659.7 1781.2 C660.7 1782.1 661.7 1783.2 662.7 1784.3 C663.7 1785.5 664.7 1786.7 665.7 1787.9 C666.7 1789.1 667.7 1790.5 668.7 1791.7 C669.7 1792.9 670.7 1794.1 671.7 1795.1 C672.7 1796.1 673.7 1797.1 674.7 1797.8 C675.7 1798.5 676.7 1799.1 677.7 1799.5 C678.7 1799.9 679.7 1800.1 680.7 1800.1 C681.7 1800.1 682.7 1800.0 683.7 1799.6 C684.7 1799.2 685.7 1798.7 686.7 1798.0 C687.7 1797.3 688.7 1796.4 689.7 1795.3 C690.7 1794.2 691.7 1793.0 692.7 1791.6 C693.7 1790.3 694.7 1788.7 695.7 1787.1 C696.7 1785.5 697.7 1783.8 698.7 1782.1 C699.7 1780.4 700.7 1778.6 701.7 1776.9 C702.7 1775.1 703.7 1773.3 704.7 1771.6 C705.7 1769.9 706.7 1768.2 707.7 1766.6 C708.7 1764.9 709.7 1763.3 710.7 1761.8 C711.7 1760.2 712.7 1758.7 713.7 1757.3 C714.7 1755.8 715.7 1754.5 716.7 1753.2 C717.7 1751.9 718.7 1750.6 719.7 1749.5 C720.7 1748.3 721.7 1747.2 722.7 1746.2 C723.7 1745.1 724.7 1744.2 725.7 1743.2 C726.7 1742.3 727.7 1741.3 728.7 1740.3 C729.7 1739.3 730.7 1738.3 731.7 1737.3 C732.7 1736.3 733.7 1735.3 734.7 1734.3 C735.7 1733.3 736.7 1732.3 737.7 1731.4 C738.7 1730.4 739.7 1729.6 740.7 1728.7 C741.7 1727.9 742.7 1727.1 743.7 1726.4 C744.7 1725.6 745.7 1724.6 746.7 1724.1 C747.7 1723.5 748.7 1722.8 749.7 1723.0 C750.7 1723.3 751.7 1724.3 752.7 1725.6 C753.7 1726.9 754.7 1728.9 755.7 1730.8 C756.7 1732.7 757.7 1734.9 758.7 1737.0 C759.7 1739.2 760.7 1741.4 761.7 1743.8 C762.7 1746.1 763.7 1748.6 764.7 1751.1 C765.7 1753.6 766.7 1756.2 767.7 1758.8 C768.7 1761.4 769.7 1764.3 770.7 1766.9 C771.7 1769.6 772.7 1772.7 773.7 1774.8 C774.7 1777.0 775.7 1778.8 776.7 1780.1 C777.7 1781.3 778.7 1781.8 779.7 1782.3 C780.7 1782.8 781.7 1782.9 782.7 1782.9 C783.7 1782.9 784.7 1782.7 785.7 1782.3 C786.7 1782.0 787.7 1781.4 788.7 1780.8 C789.7 1780.2 790.7 1779.4 791.7 1778.5 C792.7 1777.7 793.7 1776.6 794.7 1775.6 C795.7 1774.5 796.7 1773.2 797.7 1772.2 C798.7 1771.3 799.7 1770.3 800.7 1769.9 C801.7 1769.6 802.7 1769.3 803.7 1770.0 C804.7 1770.7 805.7 1772.0 806.7 1773.9 C807.7 1775.7 808.7 1778.6 809.7 1781.2 C810.7 1783.8 811.7 1786.7 812.7 1789.7 C813.7 1792.6 814.7 1795.6 815.7 1798.7 C816.7 1801.9 817.0 1802.0 818.7 1808.5 C820.3 1815.0 823.1 1831.0 825.5 1837.6 C827.8 1844.3 829.8 1844.2 832.8 1848.4 C835.8 1852.5 840.2 1858.1 843.5 1862.6 C846.9 1867.1 850.0 1870.5 852.9 1875.3 C855.8 1880.0 858.3 1886.5 861.0 1891.4 C863.7 1896.3 866.5 1900.3 869.1 1904.8 C871.7 1909.3 874.3 1913.3 876.6 1918.3 C878.8 1923.2 880.6 1928.8 882.5 1934.4 C884.4 1940.0 887.0 1949.0 887.9 1951.9" fill="none" stroke="#EEEE22" stroke-width="4.8" stroke-linecap="round" stroke-dasharray="4 13"/>
<path d="M462.5 1865.3 C464.4 1864.8 469.6 1862.9 473.8 1862.3 C477.9 1861.8 482.7 1861.9 487.2 1861.8 C491.7 1861.7 497.1 1861.4 500.7 1861.8 C504.2 1862.3 506.5 1863.3 508.7 1864.5 C511.0 1865.7 511.9 1867.9 514.1 1869.1 C516.3 1870.3 519.5 1870.7 522.2 1871.8 C524.9 1872.8 528.0 1874.7 530.2 1875.3 C532.5 1875.8 533.8 1876.4 535.6 1875.3 C537.4 1874.1 539.2 1873.7 541.0 1868.5 C542.8 1863.4 544.6 1851.7 546.4 1844.3 C548.2 1836.9 549.9 1828.1 551.7 1824.2 C553.5 1820.2 554.9 1822.2 557.1 1820.7 C559.4 1819.2 562.5 1815.9 565.2 1815.3 C567.9 1814.7 570.6 1815.2 573.3 1816.9 C575.9 1818.6 578.6 1822.3 581.3 1825.5 C584.0 1828.7 585.8 1834.5 589.4 1836.3 C593.0 1838.1 599.2 1837.4 602.8 1836.3 C606.4 1835.1 608.2 1833.1 610.9 1829.5 C613.6 1826.0 616.3 1819.7 619.0 1814.8 C621.6 1809.8 624.3 1804.2 627.0 1800.0 C629.7 1795.7 632.4 1793.0 635.1 1789.2 C637.8 1785.4 640.5 1780.0 643.2 1777.1 C645.8 1774.2 649.0 1772.4 651.2 1771.7 C653.5 1771.1 654.4 1770.6 656.6 1773.1 C658.8 1775.6 662.0 1782.3 664.7 1786.5 C667.4 1790.8 669.8 1795.8 672.7 1798.6 C675.6 1801.5 679.5 1803.5 682.1 1803.5 C684.8 1803.5 686.4 1801.5 688.9 1798.6 C691.3 1795.8 694.2 1791.5 696.9 1786.5 C699.6 1781.6 702.3 1774.2 705.0 1769.1 C707.7 1763.9 710.4 1759.2 713.1 1755.6 C715.7 1752.0 718.4 1750.5 721.1 1747.5 C723.8 1744.6 726.5 1740.6 729.2 1738.1 C731.9 1735.7 735.5 1734.3 737.3 1732.8 C739.1 1731.2 738.2 1730.7 740.0 1728.7 C741.8 1726.7 745.6 1722.5 748.1 1720.7 C750.5 1718.9 753.1 1718.6 754.8 1718.0 C756.5 1717.3 757.3 1715.3 758.3 1716.6 C759.3 1718.0 760.1 1720.0 761.0 1726.0 C761.9 1732.1 762.7 1745.3 763.7 1752.9 C764.6 1760.5 765.5 1767.7 766.9 1771.7 C768.3 1775.8 770.0 1775.1 772.3 1777.1 C774.5 1779.1 777.9 1782.3 780.3 1783.8 C782.8 1785.4 785.0 1786.8 787.1 1786.5 C789.1 1786.3 790.6 1785.4 792.4 1782.5 C794.2 1779.6 795.8 1772.6 797.8 1769.1 C799.8 1765.5 802.7 1763.0 804.5 1761.0 C806.3 1759.0 807.3 1755.6 808.6 1757.0 C809.8 1758.3 810.9 1763.5 812.1 1769.1 C813.2 1774.7 814.3 1782.5 815.3 1790.6 C816.3 1798.6 817.1 1809.8 818.0 1817.4 C818.9 1825.1 819.3 1832.7 820.7 1836.3 C822.0 1839.9 823.8 1837.2 826.0 1839.0 C828.3 1840.7 831.0 1843.4 834.1 1847.0 C837.2 1850.6 841.3 1856.4 844.9 1860.5 C848.4 1864.5 852.9 1867.6 855.6 1871.2 C858.3 1874.8 859.2 1878.4 861.0 1882.0 C862.8 1885.6 863.2 1888.2 866.4 1892.7 C869.5 1897.2 876.2 1903.5 879.8 1908.9 C883.4 1914.2 885.6 1920.5 887.9 1925.0 C890.1 1929.5 891.9 1929.0 893.3 1935.7 C894.6 1942.5 895.5 1960.4 895.9 1965.3" fill="none" stroke="#000" stroke-width="3.9" stroke-linejoin="round" stroke-linecap="round"/>
<text x="378.4" y="1897.0" font-family="Liberation Sans, sans-serif" font-size="24" text-anchor="middle" fill="#000" textLength="95.0" lengthAdjust="spacingAndGlyphs">&lt;116 ka,</text>
<text x="378.4" y="1926.8" font-family="Liberation Sans, sans-serif" font-size="24" text-anchor="middle" fill="#000" textLength="133.8" lengthAdjust="spacingAndGlyphs">data density</text>
<text x="378.4" y="1956.5" font-family="Liberation Sans, sans-serif" font-size="24" text-anchor="middle" fill="#000" textLength="103.5" lengthAdjust="spacingAndGlyphs">too low in</text>
<text x="378.4" y="1986.8" font-family="Liberation Sans, sans-serif" font-size="24" text-anchor="middle" fill="#000" textLength="101.1" lengthAdjust="spacingAndGlyphs">just KL11</text>
<line x1="171.4" y1="35.8" x2="1097.5" y2="35.8" stroke="#000" stroke-width="2.8" stroke-linecap="square"/>
<path d="M171.4 35.8v12.2M197.9 35.8v6.2M224.3 35.8v6.2M250.8 35.8v6.2M277.2 35.8v6.2M303.7 35.8v12.2M330.2 35.8v6.2M356.6 35.8v6.2M383.1 35.8v6.2M409.5 35.8v6.2M436.0 35.8v12.2M462.5 35.8v6.2M488.9 35.8v6.2M515.4 35.8v6.2M541.8 35.8v6.2M568.3 35.8v12.2M594.8 35.8v6.2M621.2 35.8v6.2M647.7 35.8v6.2M674.1 35.8v6.2M700.6 35.8v12.2M727.1 35.8v6.2M753.5 35.8v6.2M780.0 35.8v6.2M806.4 35.8v6.2M832.9 35.8v12.2M859.4 35.8v6.2M885.8 35.8v6.2M912.3 35.8v6.2M938.7 35.8v6.2M965.2 35.8v12.2M991.7 35.8v6.2M1018.1 35.8v6.2M1044.6 35.8v6.2M1071.0 35.8v6.2M1097.5 35.8v12.2" stroke="#000" stroke-width="2.8" stroke-linecap="round" fill="none"/>
<text x="172.9" y="21.5" font-family="Liberation Sans, sans-serif" font-size="29" text-anchor="middle">105</text>
<text x="305.2" y="21.5" font-family="Liberation Sans, sans-serif" font-size="29" text-anchor="middle">110</text>
<text x="437.5" y="21.5" font-family="Liberation Sans, sans-serif" font-size="29" text-anchor="middle">115</text>
<text x="569.8" y="21.5" font-family="Liberation Sans, sans-serif" font-size="29" text-anchor="middle">120</text>
<text x="702.1" y="21.5" font-family="Liberation Sans, sans-serif" font-size="29" text-anchor="middle">125</text>
<text x="834.4" y="21.5" font-family="Liberation Sans, sans-serif" font-size="29" text-anchor="middle">130</text>
<text x="966.7" y="21.5" font-family="Liberation Sans, sans-serif" font-size="29" text-anchor="middle">135</text>
<text x="1099.0" y="21.5" font-family="Liberation Sans, sans-serif" font-size="29" text-anchor="middle">140</text>
<line x1="171.4" y1="2024.2" x2="1097.5" y2="2024.2" stroke="#000" stroke-width="2.8" stroke-linecap="square"/>
<path d="M171.4 2024.2v-12.2M197.9 2024.2v-6.2M224.3 2024.2v-6.2M250.8 2024.2v-6.2M277.2 2024.2v-6.2M303.7 2024.2v-12.2M330.2 2024.2v-6.2M356.6 2024.2v-6.2M383.1 2024.2v-6.2M409.5 2024.2v-6.2M436.0 2024.2v-12.2M462.5 2024.2v-6.2M488.9 2024.2v-6.2M515.4 2024.2v-6.2M541.8 2024.2v-6.2M568.3 2024.2v-12.2M594.8 2024.2v-6.2M621.2 2024.2v-6.2M647.7 2024.2v-6.2M674.1 2024.2v-6.2M700.6 2024.2v-12.2M727.1 2024.2v-6.2M753.5 2024.2v-6.2M780.0 2024.2v-6.2M806.4 2024.2v-6.2M832.9 2024.2v-12.2M859.4 2024.2v-6.2M885.8 2024.2v-6.2M912.3 2024.2v-6.2M938.7 2024.2v-6.2M965.2 2024.2v-12.2M991.7 2024.2v-6.2M1018.1 2024.2v-6.2M1044.6 2024.2v-6.2M1071.0 2024.2v-6.2M1097.5 2024.2v-12.2" stroke="#000" stroke-width="2.8" stroke-linecap="round" fill="none"/>
<text x="172.9" y="2059.8" font-family="Liberation Sans, sans-serif" font-size="29" text-anchor="middle">105</text>
<text x="305.2" y="2059.8" font-family="Liberation Sans, sans-serif" font-size="29" text-anchor="middle">110</text>
<text x="437.5" y="2059.8" font-family="Liberation Sans, sans-serif" font-size="29" text-anchor="middle">115</text>
<text x="569.8" y="2059.8" font-family="Liberation Sans, sans-serif" font-size="29" text-anchor="middle">120</text>
<text x="702.1" y="2059.8" font-family="Liberation Sans, sans-serif" font-size="29" text-anchor="middle">125</text>
<text x="834.4" y="2059.8" font-family="Liberation Sans, sans-serif" font-size="29" text-anchor="middle">130</text>
<text x="966.7" y="2059.8" font-family="Liberation Sans, sans-serif" font-size="29" text-anchor="middle">135</text>
<text x="1099.0" y="2059.8" font-family="Liberation Sans, sans-serif" font-size="29" text-anchor="middle">140</text>
<line x1="125.0" y1="75.2" x2="125.0" y2="256.8" stroke="#5B94F5" stroke-width="2.7" stroke-linecap="square"/>
<path d="M125.0 75.2h-12.3M125.0 93.4h-6.3M125.0 111.5h-12.3M125.0 129.7h-6.3M125.0 147.8h-12.3M125.0 166.0h-6.3M125.0 184.2h-12.3M125.0 202.3h-6.3M125.0 220.5h-12.3M125.0 238.6h-6.3M125.0 256.8h-12.3" stroke="#5B94F5" stroke-width="2.5" stroke-linecap="round" fill="none"/>
<text x="102.0" y="121.5" font-family="Liberation Sans, sans-serif" font-size="29" text-anchor="end">8</text>
<text x="102.0" y="194.2" font-family="Liberation Sans, sans-serif" font-size="29" text-anchor="end">4</text>
<text x="102.0" y="266.8" font-family="Liberation Sans, sans-serif" font-size="29" text-anchor="end">0</text>
<line x1="1216.3" y1="82.6" x2="1216.3" y2="379.3" stroke="#000" stroke-width="2.7" stroke-linecap="square"/>
<path d="M1216.3 82.6h12.3M1216.3 112.3h6.3M1216.3 141.9h12.3M1216.3 171.6h6.3M1216.3 201.3h12.3M1216.3 231.0h6.3M1216.3 260.6h12.3M1216.3 290.3h6.3M1216.3 320.0h12.3M1216.3 349.6h6.3M1216.3 379.3h12.3" stroke="#000" stroke-width="2.5" stroke-linecap="round" fill="none"/>
<text x="1242.0" y="92.6" font-family="Liberation Sans, sans-serif" font-size="29" text-anchor="start">–2</text>
<text x="1242.0" y="151.9" font-family="Liberation Sans, sans-serif" font-size="29" text-anchor="start">–1</text>
<text x="1240.5" y="211.3" font-family="Liberation Sans, sans-serif" font-size="29" text-anchor="start">0</text>
<text x="1240.5" y="270.6" font-family="Liberation Sans, sans-serif" font-size="29" text-anchor="start">1</text>
<text x="1240.5" y="330.0" font-family="Liberation Sans, sans-serif" font-size="29" text-anchor="start">2</text>
<text x="1240.5" y="389.3" font-family="Liberation Sans, sans-serif" font-size="29" text-anchor="start">3</text>
<line x1="137.1" y1="513.0" x2="137.1" y2="968.1" stroke="#000" stroke-width="2.7" stroke-linecap="square"/>
<path d="M137.1 513.0h-12.3M137.1 532.0h-6.3M137.1 550.9h-12.3M137.1 569.9h-6.3M137.1 588.9h-12.3M137.1 607.8h-6.3M137.1 626.8h-12.3M137.1 645.7h-6.3M137.1 664.7h-12.3M137.1 683.7h-6.3M137.1 702.6h-12.3M137.1 721.6h-6.3M137.1 740.5h-12.3M137.1 759.5h-6.3M137.1 778.5h-12.3M137.1 797.4h-6.3M137.1 816.4h-12.3M137.1 835.4h-6.3M137.1 854.3h-12.3M137.1 873.3h-6.3M137.1 892.2h-12.3M137.1 911.2h-6.3M137.1 930.2h-12.3M137.1 949.1h-6.3M137.1 968.1h-12.3" stroke="#000" stroke-width="2.5" stroke-linecap="round" fill="none"/>
<text x="113.0" y="523.0" font-family="Liberation Sans, sans-serif" font-size="29" text-anchor="end">20</text>
<text x="113.0" y="560.9" font-family="Liberation Sans, sans-serif" font-size="29" text-anchor="end">10</text>
<text x="113.0" y="598.9" font-family="Liberation Sans, sans-serif" font-size="29" text-anchor="end">0</text>
<text x="113.0" y="636.8" font-family="Liberation Sans, sans-serif" font-size="29" text-anchor="end">–10</text>
<text x="113.0" y="674.7" font-family="Liberation Sans, sans-serif" font-size="29" text-anchor="end">–20</text>
<text x="113.0" y="712.6" font-family="Liberation Sans, sans-serif" font-size="29" text-anchor="end">–30</text>
<text x="113.0" y="750.5" font-family="Liberation Sans, sans-serif" font-size="29" text-anchor="end">–40</text>
<text x="113.0" y="788.5" font-family="Liberation Sans, sans-serif" font-size="29" text-anchor="end">–50</text>
<text x="113.0" y="826.4" font-family="Liberation Sans, sans-serif" font-size="29" text-anchor="end">–60</text>
<text x="113.0" y="864.3" font-family="Liberation Sans, sans-serif" font-size="29" text-anchor="end">–70</text>
<text x="113.0" y="902.2" font-family="Liberation Sans, sans-serif" font-size="29" text-anchor="end">–80</text>
<text x="113.0" y="940.2" font-family="Liberation Sans, sans-serif" font-size="29" text-anchor="end">–90</text>
<text x="113.0" y="978.1" font-family="Liberation Sans, sans-serif" font-size="29" text-anchor="end">–100</text>
<line x1="311.4" y1="951.9" x2="311.4" y2="1255.6" stroke="#FF0000" stroke-width="2.7" stroke-linecap="square"/>
<path d="M311.4 951.9h-12.3M311.4 972.1h-6.3M311.4 992.4h-6.3M311.4 1012.6h-6.3M311.4 1032.9h-6.3M311.4 1053.1h-12.3M311.4 1073.4h-6.3M311.4 1093.6h-6.3M311.4 1113.9h-6.3M311.4 1134.1h-6.3M311.4 1154.4h-12.3M311.4 1174.6h-6.3M311.4 1194.9h-6.3M311.4 1215.1h-6.3M311.4 1235.4h-6.3M311.4 1255.6h-12.3" stroke="#FF0000" stroke-width="2.5" stroke-linecap="round" fill="none"/>
<text x="288.5" y="961.9" font-family="Liberation Sans, sans-serif" font-size="29" text-anchor="end">5</text>
<text x="288.5" y="1063.1" font-family="Liberation Sans, sans-serif" font-size="29" text-anchor="end">0</text>
<text x="288.5" y="1164.4" font-family="Liberation Sans, sans-serif" font-size="29" text-anchor="end">–5</text>
<text x="288.5" y="1265.6" font-family="Liberation Sans, sans-serif" font-size="29" text-anchor="end">–10</text>
<line x1="1095.5" y1="921.8" x2="1095.5" y2="1346.1" stroke="#000" stroke-width="2.7" stroke-linecap="square"/>
<path d="M1095.5 921.8h12.3M1095.5 950.1h6.3M1095.5 978.4h6.3M1095.5 1006.7h6.3M1095.5 1034.9h6.3M1095.5 1063.2h12.3M1095.5 1091.5h6.3M1095.5 1119.8h6.3M1095.5 1148.1h6.3M1095.5 1176.4h6.3M1095.5 1204.7h12.3M1095.5 1233.0h6.3M1095.5 1261.2h6.3M1095.5 1289.5h6.3M1095.5 1317.8h6.3M1095.5 1346.1h12.3" stroke="#000" stroke-width="2.5" stroke-linecap="round" fill="none"/>
<text x="1118.8" y="931.8" font-family="Liberation Sans, sans-serif" font-size="29" text-anchor="start">25</text>
<text x="1118.8" y="1073.2" font-family="Liberation Sans, sans-serif" font-size="29" text-anchor="start">20</text>
<text x="1118.8" y="1214.7" font-family="Liberation Sans, sans-serif" font-size="29" text-anchor="start">15</text>
<text x="1118.8" y="1356.1" font-family="Liberation Sans, sans-serif" font-size="29" text-anchor="start">10</text>
<line x1="1216.2" y1="918.5" x2="1216.2" y2="1282.3" stroke="#0000FF" stroke-width="2.7" stroke-linecap="square"/>
<path d="M1216.2 918.5h12.3M1216.2 948.8h6.3M1216.2 979.1h12.3M1216.2 1009.5h6.3M1216.2 1039.8h12.3M1216.2 1070.1h6.3M1216.2 1100.4h12.3M1216.2 1130.7h6.3M1216.2 1161.0h12.3M1216.2 1191.3h6.3M1216.2 1221.7h12.3M1216.2 1252.0h6.3M1216.2 1282.3h12.3" stroke="#0000FF" stroke-width="2.5" stroke-linecap="round" fill="none"/>
<text x="1240.1" y="928.5" font-family="Liberation Sans, sans-serif" font-size="29" text-anchor="start">300</text>
<text x="1240.1" y="989.1" font-family="Liberation Sans, sans-serif" font-size="29" text-anchor="start">280</text>
<text x="1240.1" y="1049.8" font-family="Liberation Sans, sans-serif" font-size="29" text-anchor="start">260</text>
<text x="1240.1" y="1110.4" font-family="Liberation Sans, sans-serif" font-size="29" text-anchor="start">240</text>
<text x="1240.1" y="1171.0" font-family="Liberation Sans, sans-serif" font-size="29" text-anchor="start">220</text>
<text x="1240.1" y="1231.7" font-family="Liberation Sans, sans-serif" font-size="29" text-anchor="start">200</text>
<text x="1240.1" y="1292.3" font-family="Liberation Sans, sans-serif" font-size="29" text-anchor="start">180</text>
<line x1="171.2" y1="1301.8" x2="171.2" y2="1756.5" stroke="#000" stroke-width="2.7" stroke-linecap="square"/>
<path d="M171.2 1301.8h-12.3M171.2 1320.7h-6.3M171.2 1339.7h-12.3M171.2 1358.6h-6.3M171.2 1377.6h-12.3M171.2 1396.5h-6.3M171.2 1415.5h-12.3M171.2 1434.4h-6.3M171.2 1453.4h-12.3M171.2 1472.3h-6.3M171.2 1491.3h-12.3M171.2 1510.2h-6.3M171.2 1529.2h-12.3M171.2 1548.1h-6.3M171.2 1567.0h-12.3M171.2 1586.0h-6.3M171.2 1604.9h-12.3M171.2 1623.9h-6.3M171.2 1642.8h-12.3M171.2 1661.8h-6.3M171.2 1680.7h-12.3M171.2 1699.7h-6.3M171.2 1718.6h-12.3M171.2 1737.6h-6.3M171.2 1756.5h-12.3" stroke="#000" stroke-width="2.5" stroke-linecap="round" fill="none"/>
<text x="148.0" y="1311.8" font-family="Liberation Sans, sans-serif" font-size="29" text-anchor="end">20</text>
<text x="148.0" y="1349.7" font-family="Liberation Sans, sans-serif" font-size="29" text-anchor="end">10</text>
<text x="148.0" y="1387.6" font-family="Liberation Sans, sans-serif" font-size="29" text-anchor="end">0</text>
<text x="148.0" y="1425.5" font-family="Liberation Sans, sans-serif" font-size="29" text-anchor="end">–10</text>
<text x="148.0" y="1463.4" font-family="Liberation Sans, sans-serif" font-size="29" text-anchor="end">–20</text>
<text x="148.0" y="1501.3" font-family="Liberation Sans, sans-serif" font-size="29" text-anchor="end">–30</text>
<text x="148.0" y="1539.2" font-family="Liberation Sans, sans-serif" font-size="29" text-anchor="end">–40</text>
<text x="148.0" y="1577.0" font-family="Liberation Sans, sans-serif" font-size="29" text-anchor="end">–50</text>
<text x="148.0" y="1614.9" font-family="Liberation Sans, sans-serif" font-size="29" text-anchor="end">–60</text>
<text x="148.0" y="1652.8" font-family="Liberation Sans, sans-serif" font-size="29" text-anchor="end">–70</text>
<text x="148.0" y="1690.7" font-family="Liberation Sans, sans-serif" font-size="29" text-anchor="end">–80</text>
<text x="148.0" y="1728.6" font-family="Liberation Sans, sans-serif" font-size="29" text-anchor="end">–90</text>
<text x="148.0" y="1766.5" font-family="Liberation Sans, sans-serif" font-size="29" text-anchor="end">–100</text>
<line x1="1166.0" y1="1666.8" x2="1166.0" y2="1969.0" stroke="#000" stroke-width="2.7" stroke-linecap="square"/>
<path d="M1166.0 1666.8h12.3M1166.0 1678.9h6.3M1166.0 1691.0h6.3M1166.0 1703.1h6.3M1166.0 1715.2h6.3M1166.0 1727.2h12.3M1166.0 1739.3h6.3M1166.0 1751.4h6.3M1166.0 1763.5h6.3M1166.0 1775.6h6.3M1166.0 1787.7h12.3M1166.0 1799.8h6.3M1166.0 1811.9h6.3M1166.0 1823.9h6.3M1166.0 1836.0h6.3M1166.0 1848.1h12.3M1166.0 1860.2h6.3M1166.0 1872.3h6.3M1166.0 1884.4h6.3M1166.0 1896.5h6.3M1166.0 1908.6h12.3M1166.0 1920.6h6.3M1166.0 1932.7h6.3M1166.0 1944.8h6.3M1166.0 1956.9h6.3M1166.0 1969.0h12.3" stroke="#000" stroke-width="2.5" stroke-linecap="round" fill="none"/>
<text x="1189.9" y="1676.8" font-family="Liberation Sans, sans-serif" font-size="29" text-anchor="start">20</text>
<text x="1189.9" y="1737.2" font-family="Liberation Sans, sans-serif" font-size="29" text-anchor="start">10</text>
<text x="1189.9" y="1797.7" font-family="Liberation Sans, sans-serif" font-size="29" text-anchor="start">0</text>
<text x="1191.4" y="1858.1" font-family="Liberation Sans, sans-serif" font-size="29" text-anchor="start">–10</text>
<text x="1191.4" y="1918.6" font-family="Liberation Sans, sans-serif" font-size="29" text-anchor="start">–20</text>
<text x="1191.4" y="1979.0" font-family="Liberation Sans, sans-serif" font-size="29" text-anchor="start">–30</text>
<text transform="translate(24.5 166.0) rotate(-90)" font-family="Liberation Sans, sans-serif" font-size="29" text-anchor="middle" >Greenland</text>
<text transform="translate(59.0 167.0) rotate(-90)" font-family="Liberation Sans, sans-serif" font-size="29" text-anchor="middle" >&#916;SL (m)</text>
<text transform="translate(1317.0 230.8) rotate(-90)" font-family="Liberation Sans, sans-serif" font-size="29" text-anchor="middle" >Eirik drift &#948;<tspan font-size="20" dy="-12">18</tspan><tspan dy="12">O</tspan><tspan font-size="21" dy="8">sw</tspan><tspan dy="-8"> (&#8240;)</tspan></text>
<text transform="translate(24.5 740.0) rotate(-90)" font-family="Liberation Sans, sans-serif" font-size="29" text-anchor="middle" >RSL (m)</text>
<text transform="translate(214.5 1104.5) rotate(-90)" font-family="Liberation Sans, sans-serif" font-size="29" text-anchor="middle" >Antarctic &#916;T (&#176;C)</text>
<text transform="translate(1193.3 1134.6) rotate(-90)" font-family="Liberation Sans, sans-serif" font-size="29" text-anchor="middle" >ODP976 SST (&#176;C)</text>
<text transform="translate(1329.8 1100.0) rotate(-90)" font-family="Liberation Sans, sans-serif" font-size="29" text-anchor="middle" >CO<tspan font-size="20" dy="8">2</tspan><tspan dy="-8"> concentration (ppmv)</tspan></text>
<text transform="translate(22.5 1528.5) rotate(-90)" font-family="Liberation Sans, sans-serif" font-size="29" text-anchor="middle" >Red sea RSL (m)</text>
<text transform="translate(56.8 1528.4) rotate(-90)" font-family="Liberation Sans, sans-serif" font-size="29" text-anchor="middle" ><tspan fill="#0000FF">KL11 (central RS)</tspan>, <tspan fill="#FF0000">KL23 (northern RS)</tspan></text>
<text transform="translate(1282.0 1819.4) rotate(-90)" font-family="Liberation Sans, sans-serif" font-size="29" text-anchor="middle" >RSL (m)</text>
<text transform="translate(1317.0 1819.0) rotate(-90)" font-family="Liberation Sans, sans-serif" font-size="29" text-anchor="middle" >KL11 probabilistic analysis</text>
<text x="901.5" y="113" font-family="Liberation Sans, sans-serif" font-size="29" text-anchor="middle">HS11</text>
<text x="633.6" y="2100.5" font-family="Liberation Sans, sans-serif" font-size="29" text-anchor="middle">Age (ka BP)</text>
<text x="171.5" y="114.6" font-family="Liberation Sans, sans-serif" font-size="41" font-weight="bold">a</text>
<text x="171.5" y="362.0" font-family="Liberation Sans, sans-serif" font-size="41" font-weight="bold">b</text>
<text x="171.5" y="552.0" font-family="Liberation Sans, sans-serif" font-size="41" font-weight="bold">c</text>
<text x="344.5" y="964.0" font-family="Liberation Sans, sans-serif" font-size="41" font-weight="bold">d</text>
<text x="194.5" y="1454.2" font-family="Liberation Sans, sans-serif" font-size="41" font-weight="bold">e</text>
<text x="195.5" y="1928.7" font-family="Liberation Sans, sans-serif" font-size="41" font-weight="bold">f</text>
</svg>
</body></html>
